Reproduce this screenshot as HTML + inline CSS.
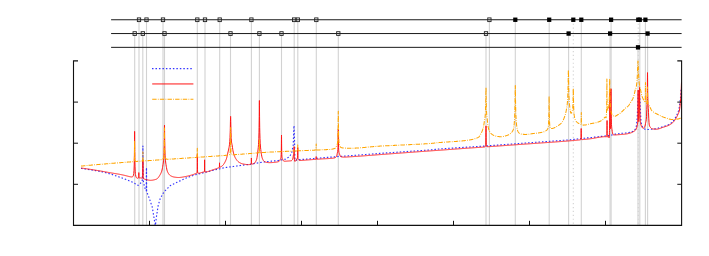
<!DOCTYPE html>
<html><head><meta charset="utf-8"><title>plot</title>
<style>html,body{margin:0;padding:0;background:#fff;font-family:"Liberation Sans",sans-serif;}
body{width:709px;height:256px;position:relative;overflow:hidden}</style></head>
<body>
<svg width="709" height="256" viewBox="0 0 709 256" style="position:absolute;left:0;top:0">
<rect width="709" height="256" fill="#fff"/>
<line x1="139" y1="19.75" x2="139" y2="225" stroke="#d2d2d2" stroke-width="1.1"/>
<line x1="146.5" y1="19.75" x2="146.5" y2="225" stroke="#d2d2d2" stroke-width="1.1"/>
<line x1="163" y1="19.75" x2="163" y2="225" stroke="#d2d2d2" stroke-width="1.1"/>
<line x1="197.3" y1="19.75" x2="197.3" y2="225" stroke="#d2d2d2" stroke-width="1.1"/>
<line x1="205" y1="19.75" x2="205" y2="225" stroke="#d2d2d2" stroke-width="1.1"/>
<line x1="219.7" y1="19.75" x2="219.7" y2="225" stroke="#d2d2d2" stroke-width="1.1"/>
<line x1="251.4" y1="19.75" x2="251.4" y2="225" stroke="#d2d2d2" stroke-width="1.1"/>
<line x1="294.2" y1="19.75" x2="294.2" y2="225" stroke="#d2d2d2" stroke-width="1.1"/>
<line x1="297.8" y1="19.75" x2="297.8" y2="225" stroke="#d2d2d2" stroke-width="1.1"/>
<line x1="316.3" y1="19.75" x2="316.3" y2="225" stroke="#d2d2d2" stroke-width="1.1"/>
<line x1="489.4" y1="19.75" x2="489.4" y2="225" stroke="#d2d2d2" stroke-width="1.1"/>
<line x1="515.3" y1="19.75" x2="515.3" y2="225" stroke="#d2d2d2" stroke-width="1.1"/>
<line x1="549.2" y1="19.75" x2="549.2" y2="225" stroke="#d2d2d2" stroke-width="1.1"/>
<line x1="573.3" y1="19.75" x2="573.3" y2="225" stroke="#d2d2d2" stroke-width="1.1" stroke-dasharray="1.2 2.7"/>
<line x1="581.3" y1="19.75" x2="581.3" y2="225" stroke="#d2d2d2" stroke-width="1.1"/>
<line x1="611.1" y1="19.75" x2="611.1" y2="225" stroke="#d2d2d2" stroke-width="1.1"/>
<line x1="638.25" y1="19.75" x2="638.25" y2="225" stroke="#d2d2d2" stroke-width="1.1" stroke-dasharray="1.2 2.7"/>
<line x1="639.8" y1="19.75" x2="639.8" y2="225" stroke="#d2d2d2" stroke-width="1.1"/>
<line x1="645.4" y1="19.75" x2="645.4" y2="225" stroke="#d2d2d2" stroke-width="1.1"/>
<line x1="134.7" y1="33.55" x2="134.7" y2="225" stroke="#d2d2d2" stroke-width="1.1"/>
<line x1="142.8" y1="33.55" x2="142.8" y2="225" stroke="#d2d2d2" stroke-width="1.1"/>
<line x1="164.5" y1="33.55" x2="164.5" y2="225" stroke="#d2d2d2" stroke-width="1.1"/>
<line x1="230.5" y1="33.55" x2="230.5" y2="225" stroke="#d2d2d2" stroke-width="1.1"/>
<line x1="259.4" y1="33.55" x2="259.4" y2="225" stroke="#d2d2d2" stroke-width="1.1"/>
<line x1="281.5" y1="33.55" x2="281.5" y2="225" stroke="#d2d2d2" stroke-width="1.1"/>
<line x1="338.3" y1="33.55" x2="338.3" y2="225" stroke="#d2d2d2" stroke-width="1.1"/>
<line x1="486" y1="33.55" x2="486" y2="225" stroke="#d2d2d2" stroke-width="1.1"/>
<line x1="568.6" y1="33.55" x2="568.6" y2="225" stroke="#d2d2d2" stroke-width="1.1"/>
<line x1="610.1" y1="33.55" x2="610.1" y2="225" stroke="#d2d2d2" stroke-width="1.1"/>
<line x1="647.6" y1="33.55" x2="647.6" y2="225" stroke="#d2d2d2" stroke-width="1.1"/>
<line x1="638.0" y1="47.35" x2="638.0" y2="225" stroke="#d2d2d2" stroke-width="1.1"/>
<path d="M81.00 168.40L81.15 168.40L81.50 168.45L82.00 168.53L82.50 168.60L83.00 168.67L83.50 168.75L84.00 168.82L84.50 168.89L85.00 168.97L85.50 169.04L86.00 169.12L86.50 169.19L87.00 169.26L87.50 169.34L88.00 169.41L88.50 169.48L89.00 169.56L89.50 169.63L90.00 169.71L90.50 169.78L91.00 169.85L91.50 169.93L92.00 170.00L92.50 170.09L93.00 170.18L93.50 170.27L94.00 170.36L94.50 170.45L95.00 170.55L95.50 170.64L96.00 170.73L96.50 170.82L97.00 170.91L97.50 171.00L98.00 171.09L98.50 171.18L99.00 171.27L99.50 171.36L100.00 171.45L100.50 171.55L101.00 171.64L101.50 171.73L102.00 171.82L102.50 171.91L103.00 172.00L103.50 172.09L104.00 172.18L104.10 172.20L104.50 172.32L105.00 172.46L105.50 172.61L106.00 172.76L106.50 172.90L107.00 173.05L107.50 173.19L108.00 173.34L108.50 173.49L109.00 173.63L109.50 173.78L110.00 173.92L110.50 174.07L111.00 174.22L111.50 174.36L112.00 174.51L112.50 174.65L113.00 174.80L113.50 174.98L114.00 175.15L114.50 175.33L115.00 175.51L115.50 175.68L116.00 175.86L116.50 176.04L117.00 176.21L117.50 176.39L118.00 176.57L118.50 176.74L119.00 176.92L119.50 177.10L120.00 177.27L120.50 177.45L121.00 177.63L121.50 177.81L122.00 177.98L122.50 178.16L122.90 178.30L123.00 178.34L123.50 178.54L124.00 178.74L124.50 178.94L125.00 179.14L125.50 179.33L126.00 179.53L126.50 179.73L127.00 179.93L127.50 180.13L128.00 180.33L128.50 180.53L129.00 180.73L129.50 180.93L130.00 181.12L130.50 181.32L131.00 181.52L131.50 181.72L132.00 181.92L132.20 182.00L132.50 182.17L133.00 182.46L133.50 182.74L134.00 183.03L134.50 183.31L135.00 183.60L135.50 183.89L136.00 184.17L136.50 184.46L137.00 184.74L137.50 185.03L138.00 185.31L138.15 185.40L138.50 185.09L139.00 184.64L139.50 184.19L140.00 183.75L140.50 183.30L141.00 182.62L141.50 181.95L142.00 181.27L142.20 181.00L142.50 175.00L142.75 170.00L142.90 146.00L143.00 162.00L143.05 170.00L143.30 180.50L143.50 181.75L143.70 183.00L144.00 184.46L144.50 186.90L145.00 188.17L145.50 189.44L145.80 190.20L146.00 190.44L146.30 190.80L146.45 167.80L146.50 175.70L146.60 191.50L147.00 192.50L147.50 193.75L147.60 194.00L148.00 195.02L148.50 196.30L149.00 197.58L149.40 198.60L149.50 198.90L150.00 200.40L150.50 201.90L151.00 203.40L151.50 204.90L152.00 206.40L152.30 207.30L152.50 208.53L153.00 211.59L153.50 214.66L153.80 216.50L154.00 217.75L154.50 220.87L155.00 224.00L155.40 225.30L155.50 224.48L155.80 222.00L156.00 220.33L156.40 217.00L156.50 216.36L157.00 213.13L157.50 209.91L158.00 206.69L158.20 205.40L158.50 204.38L159.00 202.68L159.50 200.98L160.00 199.28L160.20 198.60L160.50 198.07L161.00 197.18L161.50 196.30L162.00 195.42L162.50 194.53L163.00 193.65L163.50 192.76L164.00 191.88L164.10 191.70L164.50 191.30L165.00 190.80L165.50 190.30L166.00 189.80L166.50 189.30L167.00 188.80L167.50 188.30L168.00 187.80L168.50 187.30L169.00 186.80L169.50 186.30L169.90 185.90L170.00 185.85L170.50 185.60L171.00 185.35L171.50 185.10L172.00 184.85L172.50 184.60L173.00 184.35L173.50 184.10L174.00 183.85L174.50 183.60L175.00 183.35L175.50 183.10L176.00 182.85L176.50 182.60L177.00 182.35L177.50 182.10L177.70 182.00L178.00 181.86L178.50 181.62L179.00 181.37L179.50 181.13L180.00 180.89L180.50 180.65L181.00 180.41L181.50 180.17L182.00 179.93L182.50 179.69L183.00 179.45L183.50 179.21L184.00 178.97L184.50 178.73L185.00 178.49L185.50 178.25L185.60 178.20L186.00 178.06L186.50 177.88L187.00 177.71L187.50 177.53L188.00 177.35L188.50 177.17L189.00 177.00L189.50 176.82L190.00 176.64L190.50 176.47L191.00 176.29L191.50 176.11L192.00 175.94L192.50 175.76L193.00 175.58L193.50 175.41L194.00 175.23L194.50 175.05L195.00 174.88L195.50 174.70L196.00 174.58L196.50 174.45L197.00 174.33L197.50 174.21L198.00 174.08L198.50 173.96L199.00 173.84L199.50 173.71L200.00 173.59L200.50 173.46L201.00 173.34L201.50 173.22L202.00 173.09L202.50 172.97L203.00 172.85L203.50 172.72L204.00 172.60L204.50 172.47L205.00 172.35L205.50 172.22L206.00 172.10L206.50 171.97L207.00 171.85L207.50 171.72L208.00 171.60L208.50 171.47L209.00 171.35L209.50 171.22L210.00 171.10L210.50 170.97L211.00 170.85L211.50 170.72L212.00 170.60L212.40 170.50L212.50 170.48L213.00 170.36L213.50 170.24L214.00 170.12L214.50 170.01L215.00 169.89L215.50 169.77L216.00 169.65L216.50 169.54L217.00 169.42L217.50 169.30L218.00 169.18L218.50 169.06L219.00 168.95L219.50 168.83L220.00 168.71L220.50 168.59L220.90 168.50L221.00 168.48L221.50 168.37L222.00 168.26L222.50 168.15L223.00 168.04L223.50 167.93L224.00 167.82L224.50 167.71L225.00 167.60L225.50 167.53L226.00 167.46L226.50 167.40L227.00 167.33L227.50 167.26L228.00 167.19L228.50 167.13L229.00 167.06L229.50 166.99L230.00 166.92L230.50 166.86L231.00 166.79L231.50 166.72L232.00 166.65L232.50 166.59L233.00 166.52L233.50 166.45L234.00 166.38L234.50 166.32L235.00 166.25L235.50 166.18L236.00 166.11L236.10 166.10L236.50 166.05L237.00 165.98L237.50 165.91L238.00 165.84L238.50 165.78L239.00 165.71L239.50 165.64L240.00 165.57L240.50 165.51L241.00 165.44L241.50 165.37L242.00 165.30L242.50 165.24L243.00 165.17L243.50 165.10L244.00 165.04L244.50 164.97L245.00 164.90L245.50 164.83L246.00 164.77L246.50 164.70L247.00 164.63L247.50 164.56L248.00 164.50L248.50 164.43L249.00 164.36L249.50 164.29L250.00 164.23L250.20 164.20L250.50 164.15L251.00 164.07L251.50 163.99L252.00 163.91L252.50 163.82L253.00 163.74L253.50 163.66L254.00 163.58L254.50 163.50L255.00 163.42L255.50 163.34L256.00 163.25L256.50 163.17L257.00 163.09L257.50 163.01L258.00 162.93L258.50 162.85L259.00 162.76L259.50 162.68L260.00 162.60L260.50 162.52L261.00 162.44L261.50 162.36L262.00 162.28L262.50 162.19L263.00 162.11L263.50 162.03L264.00 161.95L264.30 161.90L264.50 161.88L265.00 161.83L265.50 161.78L266.00 161.73L266.50 161.68L267.00 161.63L267.50 161.58L268.00 161.53L268.50 161.48L269.00 161.43L269.50 161.38L270.00 161.33L270.50 161.28L271.00 161.23L271.50 161.19L272.00 161.14L272.50 161.09L273.00 161.04L273.50 160.99L274.00 160.94L274.50 160.89L275.00 160.84L275.50 160.79L276.00 160.74L276.50 160.69L277.00 160.64L277.50 160.59L278.00 160.54L278.40 160.50L278.50 160.48L279.00 160.38L279.50 160.28L280.00 160.18L280.50 160.09L281.00 159.99L281.50 159.89L282.00 159.79L282.50 159.69L283.00 159.59L283.50 159.49L284.00 159.40L284.50 159.30L285.00 159.20L285.50 159.10L286.00 158.80L286.50 158.50L287.00 158.21L287.50 157.91L288.00 157.61L288.50 157.31L289.00 157.02L289.50 156.72L289.70 156.60L290.00 155.99L290.50 154.96L291.00 153.94L291.50 152.91L291.80 152.30L292.00 151.30L292.50 148.80L293.00 146.30L293.20 145.30L293.50 137.91L294.00 125.60L294.50 140.00L294.80 155.00L295.00 160.30L295.50 160.23L296.00 160.16L296.50 160.09L297.00 160.02L297.50 159.95L298.00 159.88L298.50 159.81L299.00 159.74L299.50 159.67L300.00 159.60L300.50 159.56L301.00 159.52L301.50 159.48L302.00 159.44L302.50 159.40L303.00 159.36L303.50 159.32L304.00 159.28L304.50 159.24L305.00 159.20L305.50 159.16L306.00 159.12L306.50 159.08L307.00 159.04L307.50 159.00L308.00 158.96L308.50 158.92L309.00 158.88L309.50 158.84L310.00 158.80L310.50 158.76L311.00 158.72L311.50 158.68L312.00 158.64L312.50 158.60L313.00 158.56L313.50 158.52L314.00 158.48L314.50 158.44L315.00 158.40L315.50 158.36L316.00 158.32L316.50 158.28L317.00 158.24L317.50 158.20L318.00 158.16L318.50 158.12L319.00 158.08L319.50 158.04L320.00 158.00L320.50 157.96L321.00 157.92L321.50 157.88L322.00 157.84L322.50 157.80L323.00 157.76L323.50 157.72L324.00 157.68L324.50 157.64L325.00 157.60L325.50 157.56L326.00 157.52L326.50 157.48L327.00 157.44L327.50 157.40L328.00 157.36L328.50 157.32L329.00 157.28L329.50 157.24L330.00 157.20L330.50 157.16L331.00 157.12L331.50 157.07L332.00 157.03L332.50 156.99L333.00 156.95L333.50 156.90L334.00 156.86L334.50 156.82L335.00 156.78L335.50 156.74L336.00 156.69L336.50 156.65L337.00 156.61L337.50 156.57L338.00 156.53L338.30 156.50L338.50 156.49L339.00 156.45L339.50 156.42L340.00 156.38L340.50 156.35L341.00 156.32L341.50 156.28L342.00 156.25L342.50 156.21L343.00 156.18L343.50 156.14L344.00 156.11L344.50 156.08L345.00 156.04L345.50 156.01L346.00 155.97L346.50 155.94L347.00 155.91L347.50 155.87L348.00 155.84L348.50 155.80L349.00 155.77L349.50 155.73L350.00 155.70L350.50 155.66L351.00 155.62L351.50 155.58L352.00 155.55L352.50 155.51L353.00 155.47L353.50 155.43L354.00 155.39L354.50 155.35L355.00 155.32L355.50 155.28L356.00 155.24L356.50 155.20L357.00 155.16L357.50 155.12L358.00 155.09L358.50 155.05L359.00 155.01L359.50 154.97L360.00 154.93L360.50 154.89L361.00 154.86L361.50 154.82L362.00 154.78L362.50 154.74L363.00 154.70L363.50 154.66L364.00 154.63L364.50 154.59L365.00 154.55L365.50 154.51L366.00 154.47L366.50 154.44L367.00 154.40L367.50 154.36L368.00 154.32L368.50 154.28L369.00 154.24L369.50 154.21L370.00 154.17L370.50 154.13L371.00 154.09L371.50 154.05L372.00 154.01L372.50 153.97L373.00 153.94L373.50 153.90L374.00 153.86L374.50 153.82L375.00 153.78L375.50 153.75L376.00 153.71L376.50 153.67L377.00 153.63L377.50 153.59L378.00 153.55L378.50 153.52L379.00 153.48L379.50 153.44L380.00 153.40L380.50 153.37L381.00 153.33L381.50 153.30L382.00 153.26L382.50 153.22L383.00 153.19L383.50 153.16L384.00 153.12L384.50 153.09L385.00 153.05L385.50 153.02L386.00 152.98L386.50 152.94L387.00 152.91L387.50 152.88L388.00 152.84L388.50 152.81L389.00 152.77L389.50 152.74L390.00 152.70L390.50 152.66L391.00 152.63L391.50 152.59L392.00 152.56L392.50 152.53L393.00 152.49L393.50 152.46L394.00 152.42L394.50 152.39L395.00 152.35L395.50 152.31L396.00 152.28L396.50 152.25L397.00 152.21L397.50 152.18L398.00 152.14L398.50 152.11L399.00 152.07L399.50 152.03L400.00 152.00L400.50 151.97L401.00 151.93L401.50 151.90L402.00 151.86L402.50 151.83L403.00 151.79L403.50 151.75L404.00 151.72L404.50 151.69L405.00 151.65L405.50 151.62L406.00 151.58L406.50 151.55L407.00 151.51L407.50 151.47L408.00 151.44L408.50 151.41L409.00 151.37L409.50 151.34L410.00 151.30L410.50 151.27L411.00 151.23L411.50 151.19L412.00 151.16L412.50 151.12L413.00 151.09L413.50 151.06L414.00 151.02L414.50 150.99L415.00 150.95L415.50 150.91L416.00 150.88L416.50 150.84L417.00 150.81L417.50 150.78L418.00 150.74L418.50 150.71L419.00 150.67L419.50 150.64L420.00 150.60L420.50 150.56L421.00 150.53L421.50 150.50L422.00 150.46L422.50 150.43L423.00 150.39L423.50 150.36L424.00 150.32L424.50 150.28L425.00 150.25L425.50 150.22L426.00 150.18L426.50 150.15L427.00 150.11L427.50 150.08L428.00 150.04L428.50 150.00L429.00 149.97L429.50 149.94L430.00 149.90L430.50 149.85L431.00 149.80L431.50 149.75L432.00 149.70L432.50 149.65L433.00 149.60L433.50 149.55L434.00 149.50L434.50 149.45L435.00 149.40L435.50 149.35L436.00 149.30L436.50 149.25L437.00 149.20L437.50 149.15L438.00 149.10L438.50 149.05L439.00 149.00L439.50 148.95L440.00 148.90L440.50 148.87L441.00 148.84L441.50 148.80L442.00 148.77L442.50 148.74L443.00 148.71L443.50 148.67L444.00 148.64L444.50 148.61L445.00 148.58L445.50 148.55L446.00 148.51L446.50 148.48L447.00 148.45L447.50 148.42L448.00 148.38L448.50 148.35L449.00 148.32L449.50 148.29L450.00 148.26L450.50 148.22L451.00 148.19L451.50 148.16L452.00 148.13L452.50 148.09L453.00 148.06L453.50 148.03L454.00 148.00L454.50 147.97L455.00 147.93L455.50 147.90L456.00 147.87L456.50 147.84L457.00 147.80L457.50 147.77L458.00 147.74L458.50 147.71L459.00 147.68L459.50 147.64L460.00 147.61L460.50 147.58L461.00 147.55L461.50 147.51L462.00 147.48L462.50 147.45L463.00 147.42L463.50 147.39L464.00 147.35L464.50 147.32L465.00 147.29L465.50 147.26L466.00 147.22L466.50 147.19L467.00 147.16L467.50 147.13L468.00 147.10L468.50 147.06L469.00 147.03L469.50 147.00L470.00 146.97L470.50 146.93L471.00 146.90L471.50 146.87L472.00 146.84L472.50 146.81L473.00 146.77L473.50 146.74L474.00 146.71L474.50 146.68L475.00 146.64L475.50 146.61L476.00 146.58L476.50 146.55L477.00 146.52L477.50 146.48L478.00 146.45L478.50 146.42L479.00 146.39L479.50 146.35L480.00 146.32L480.50 146.29L481.00 146.26L481.50 146.23L482.00 146.19L482.50 146.16L483.00 146.13L483.50 146.10L484.00 146.06L484.50 146.03L485.00 146.00L485.50 145.96L486.00 145.93L486.50 145.89L487.00 145.85L487.50 145.81L488.00 145.78L488.50 145.74L489.00 145.70L489.50 145.67L490.00 145.63L490.50 145.59L491.00 145.55L491.50 145.52L492.00 145.48L492.50 145.44L493.00 145.41L493.50 145.37L494.00 145.33L494.50 145.29L495.00 145.26L495.50 145.22L496.00 145.18L496.50 145.15L497.00 145.11L497.50 145.07L498.00 145.03L498.50 145.00L499.00 144.96L499.50 144.92L500.00 144.89L500.50 144.85L501.00 144.81L501.50 144.77L502.00 144.74L502.50 144.70L503.00 144.66L503.50 144.63L504.00 144.59L504.50 144.55L505.00 144.51L505.50 144.48L506.00 144.44L506.50 144.40L507.00 144.37L507.50 144.33L508.00 144.29L508.50 144.25L509.00 144.22L509.50 144.18L510.00 144.14L510.50 144.11L511.00 144.07L511.50 144.03L512.00 143.99L512.50 143.96L513.00 143.92L513.50 143.88L514.00 143.85L514.50 143.81L515.00 143.77L515.50 143.73L516.00 143.70L516.50 143.66L517.00 143.62L517.50 143.59L518.00 143.55L518.50 143.51L519.00 143.47L519.50 143.44L520.00 143.40L520.50 143.36L521.00 143.33L521.50 143.29L522.00 143.26L522.50 143.22L523.00 143.18L523.50 143.15L524.00 143.11L524.50 143.08L525.00 143.04L525.50 143.00L526.00 142.97L526.50 142.93L527.00 142.90L527.50 142.86L528.00 142.82L528.50 142.79L529.00 142.75L529.50 142.72L530.00 142.68L530.50 142.64L531.00 142.61L531.50 142.57L532.00 142.54L532.50 142.50L533.00 142.46L533.50 142.43L534.00 142.39L534.50 142.36L535.00 142.32L535.50 142.28L536.00 142.25L536.50 142.21L537.00 142.18L537.50 142.14L538.00 142.10L538.50 142.07L539.00 142.03L539.50 142.00L540.00 141.96L540.50 141.92L541.00 141.89L541.50 141.85L542.00 141.82L542.50 141.78L543.00 141.74L543.50 141.71L544.00 141.67L544.50 141.64L545.00 141.60L545.50 141.56L546.00 141.53L546.50 141.49L547.00 141.46L547.50 141.42L548.00 141.38L548.50 141.35L549.00 141.31L549.50 141.28L550.00 141.24L550.50 141.20L551.00 141.17L551.50 141.13L552.00 141.10L552.50 141.06L553.00 141.02L553.50 140.99L554.00 140.95L554.50 140.92L555.00 140.88L555.50 140.84L556.00 140.81L556.50 140.77L557.00 140.74L557.50 140.70L558.00 140.66L558.50 140.63L559.00 140.59L559.50 140.56L560.00 140.52L560.50 140.48L561.00 140.45L561.50 140.41L562.00 140.38L562.50 140.34L563.00 140.30L563.50 140.27L564.00 140.23L564.50 140.20L565.00 140.16L565.50 140.12L566.00 140.09L566.50 140.05L567.00 140.02L567.50 139.98L568.00 139.94L568.50 139.91L569.00 139.87L569.50 139.84L570.00 139.80L570.50 139.75L571.00 139.69L571.50 139.64L572.00 139.58L572.50 139.53L573.00 139.47L573.50 139.42L574.00 139.36L574.50 139.31L575.00 139.26L575.50 139.20L576.00 139.15L576.50 139.09L577.00 139.04L577.50 138.98L578.00 138.93L578.50 138.88L579.00 138.82L579.50 138.77L580.00 138.71L580.50 138.66L581.00 138.60L581.50 138.55L582.00 138.49L582.50 138.44L583.00 138.39L583.50 138.33L584.00 138.28L584.50 138.22L585.00 138.17L585.50 138.11L586.00 138.06L586.50 138.00L587.00 137.95L587.50 137.90L588.00 137.84L588.50 137.79L589.00 137.73L589.50 137.68L590.00 137.62L590.50 137.57L591.00 137.51L591.50 137.46L592.00 137.41L592.50 137.35L593.00 137.30L593.50 137.24L594.00 137.19L594.50 137.13L595.00 137.08L595.50 137.03L596.00 136.97L596.50 136.92L597.00 136.86L597.50 136.81L598.00 136.75L598.50 136.70L599.00 136.64L599.50 136.59L600.00 136.54L600.50 136.48L601.00 136.43L601.50 136.37L602.00 136.32L602.50 136.26L603.00 136.21L603.50 136.15L604.00 136.10L604.50 136.05L605.00 135.99L605.50 135.94L606.00 135.88L606.50 135.83L607.00 135.78L607.50 135.72L608.00 135.67L608.50 135.62L609.00 135.56L609.50 135.51L610.00 135.45L610.50 135.40L611.00 135.24L611.50 135.09L612.00 134.93L612.50 134.77L613.00 134.61L613.50 134.46L614.00 134.30L614.50 134.24L615.00 134.18L615.50 134.11L616.00 134.05L616.50 133.99L617.00 133.93L617.50 133.86L618.00 133.80L618.50 133.74L619.00 133.68L619.50 133.61L620.00 133.55L620.50 133.49L621.00 133.43L621.50 133.36L622.00 133.30L622.50 133.26L623.00 133.22L623.50 133.18L624.00 133.13L624.50 133.09L625.00 133.05L625.50 133.01L626.00 132.97L626.50 132.93L627.00 132.88L627.50 132.84L628.00 132.80L628.50 132.65L629.00 132.51L629.50 132.36L630.00 132.22L630.50 132.07L631.00 131.93L631.50 131.78L632.00 131.63L632.50 131.49L632.80 131.40L633.00 131.22L633.50 130.78L634.00 130.34L634.50 129.90L635.00 129.45L635.40 129.10L635.50 128.79L636.00 127.24L636.40 126.00L636.50 125.00L637.00 120.00L637.20 118.00L637.50 111.10L638.00 99.60L638.20 95.00L638.50 93.13L639.00 90.00L639.50 95.00L640.00 100.00L640.45 112.00L640.50 112.89L640.90 120.00L641.00 120.80L641.40 124.00L641.50 124.25L642.00 125.53L642.50 126.80L643.00 127.30L643.50 127.80L644.00 128.30L644.50 128.80L645.00 129.30L645.50 129.33L646.00 129.37L646.50 129.40L647.00 129.43L647.50 129.47L648.00 129.50L648.50 129.46L649.00 129.43L649.50 129.39L650.00 129.35L650.50 129.31L651.00 129.27L651.50 129.24L652.00 129.20L652.50 129.14L653.00 129.08L653.50 129.03L654.00 128.97L654.50 128.91L655.00 128.85L655.50 128.79L656.00 128.73L656.30 128.70L656.50 128.64L657.00 128.49L657.50 128.34L658.00 128.19L658.50 128.04L659.00 127.89L659.50 127.74L660.00 127.59L660.50 127.44L661.00 127.29L661.50 127.14L662.00 126.99L662.50 126.84L663.00 126.69L663.30 126.60L663.50 126.53L664.00 126.36L664.50 126.19L665.00 126.02L665.50 125.85L666.00 125.68L666.50 125.51L667.00 125.34L667.50 125.17L668.00 125.00L668.50 124.69L669.00 124.38L669.50 124.06L670.00 123.75L670.50 123.44L671.00 123.12L671.50 122.81L672.00 122.50L672.50 121.90L673.00 121.29L673.50 120.69L674.00 120.08L674.40 119.60L674.50 119.41L675.00 118.49L675.50 117.56L676.00 116.64L676.50 115.71L677.00 114.79L677.10 114.60L677.50 113.53L678.00 112.18L678.50 110.84L679.00 109.50L679.50 105.75L680.00 102.00L680.50 97.83L680.60 97.00L681.00 91.00L681.20 88.00" fill="none" stroke="#3434ff" stroke-width="1.15" stroke-dasharray="1.5 1.98" stroke-linejoin="round"/>
<line x1="146.5" y1="168" x2="146.5" y2="191" stroke="#3434ff" stroke-width="1.1" stroke-dasharray="2.4 1.1" opacity="0.75"/>
<path d="M81.00 168.00L81.25 168.03L81.50 168.07L81.75 168.10L82.00 168.14L82.25 168.17L82.50 168.21L82.75 168.24L83.00 168.28L83.25 168.31L83.50 168.35L83.75 168.39L84.00 168.42L84.25 168.46L84.50 168.49L84.75 168.53L85.00 168.57L85.25 168.60L85.50 168.64L85.75 168.67L86.00 168.71L86.25 168.75L86.50 168.78L86.75 168.82L87.00 168.86L87.25 168.90L87.50 168.93L87.75 168.97L88.00 169.01L88.25 169.05L88.50 169.08L88.75 169.12L89.00 169.16L89.25 169.20L89.50 169.23L89.75 169.27L90.00 169.31L90.25 169.35L90.50 169.39L90.75 169.43L91.00 169.46L91.25 169.50L91.50 169.54L91.75 169.58L92.00 169.62L92.25 169.66L92.50 169.70L92.75 169.74L93.00 169.78L93.25 169.82L93.50 169.86L93.75 169.90L94.00 169.94L94.25 169.98L94.50 170.02L94.75 170.06L95.00 170.10L95.25 170.14L95.50 170.18L95.75 170.22L96.00 170.26L96.25 170.30L96.50 170.34L96.75 170.38L97.00 170.42L97.25 170.46L97.50 170.50L97.75 170.54L98.00 170.58L98.25 170.62L98.50 170.67L98.75 170.71L99.00 170.75L99.25 170.79L99.50 170.83L99.75 170.88L100.00 170.92L100.25 170.96L100.50 171.01L100.75 171.05L101.00 171.09L101.25 171.14L101.50 171.18L101.75 171.22L102.00 171.27L102.25 171.31L102.50 171.36L102.75 171.40L103.00 171.45L103.25 171.49L103.50 171.53L103.75 171.58L104.00 171.62L104.25 171.67L104.50 171.71L104.75 171.76L105.00 171.80L105.25 171.85L105.50 171.89L105.75 171.94L106.00 171.98L106.25 172.03L106.50 172.07L106.75 172.12L107.00 172.16L107.25 172.21L107.50 172.25L107.75 172.30L108.00 172.34L108.25 172.39L108.50 172.43L108.75 172.48L109.00 172.52L109.25 172.57L109.50 172.61L109.75 172.66L110.00 172.70L110.25 172.74L110.50 172.79L110.75 172.83L111.00 172.87L111.25 172.92L111.50 172.96L111.75 173.00L112.00 173.04L112.25 173.08L112.50 173.13L112.75 173.17L113.00 173.21L113.25 173.25L113.50 173.29L113.75 173.33L114.00 173.37L114.25 173.41L114.50 173.45L114.75 173.50L115.00 173.54L115.25 173.58L115.50 173.62L115.75 173.66L116.00 173.70L116.25 173.74L116.50 173.78L116.75 173.83L117.00 173.87L117.25 173.91L117.50 173.95L117.75 174.00L118.00 174.04L118.25 174.08L118.50 174.13L118.75 174.17L119.00 174.22L119.25 174.26L119.50 174.31L119.75 174.35L120.00 174.40L120.25 174.45L120.50 174.50L120.75 174.54L121.00 174.59L121.25 174.64L121.50 174.69L121.75 174.74L122.00 174.80L122.25 174.85L122.50 174.90L122.75 174.95L123.00 175.01L123.25 175.06L123.50 175.12L123.75 175.18L124.00 175.24L124.25 175.29L124.50 175.35L124.75 175.41L125.00 175.47L125.25 175.54L125.50 175.60L125.75 175.66L126.00 175.72L126.25 175.79L126.50 175.85L126.75 175.91L127.00 175.98L127.25 176.04L127.50 176.11L127.75 176.17L128.00 176.23L128.25 176.30L128.50 176.36L128.75 176.42L129.00 176.48L129.25 176.54L129.50 176.60L129.75 176.66L130.00 176.71L130.25 176.76L130.50 176.81L130.75 176.85L131.00 176.88L131.25 176.91L131.50 176.92L131.75 176.92L132.00 176.89L132.25 176.83L132.50 176.73L132.75 176.55L133.00 176.26L133.25 175.79L133.50 174.98L133.75 173.50L133.80 173.07L134.00 170.58L134.20 165.89L134.25 164.10L134.30 161.93L134.40 155.84L134.45 151.44L134.50 145.50L134.54 139.25L134.57 134.11L134.60 131.40L134.63 134.13L134.66 139.30L134.70 145.59L134.75 151.56L134.80 156.01L134.90 162.17L135.00 166.22L135.20 171.06L135.25 171.86L135.40 173.70L135.50 174.57L135.75 176.03L136.00 176.89L136.25 177.42L136.50 177.76L136.75 177.97L137.00 178.10L137.25 178.18L137.50 178.22L137.75 178.22L138.00 178.19L138.20 178.15L138.25 178.13L138.40 178.06L138.50 177.96L138.60 177.71L138.65 177.40L138.70 176.72L138.74 175.44L138.75 174.94L138.77 173.77L138.80 172.60L138.83 173.75L138.86 175.42L138.90 176.68L138.95 177.35L139.00 177.63L139.10 177.85L139.20 177.92L139.25 177.93L139.40 177.95L139.50 177.94L139.60 177.94L139.75 177.93L140.00 177.91L140.25 177.90L140.50 177.90L140.75 177.92L141.00 177.95L141.25 177.99L141.50 178.04L141.75 178.09L142.00 178.13L142.10 178.13L142.25 178.11L142.30 178.09L142.50 177.84L142.60 177.44L142.70 176.37L142.75 175.11L142.80 172.49L142.84 168.28L142.87 163.36L142.90 160.00L142.93 163.38L142.96 168.33L143.00 172.57L143.05 175.22L143.10 176.53L143.20 177.67L143.25 177.95L143.30 178.14L143.50 178.55L143.70 178.73L143.75 178.77L144.00 178.90L144.25 179.00L144.50 179.09L144.75 179.18L145.00 179.26L145.25 179.34L145.50 179.42L145.75 179.49L146.00 179.55L146.25 179.61L146.50 179.67L146.75 179.72L147.00 179.78L147.25 179.83L147.50 179.89L147.75 179.94L148.00 179.99L148.25 180.04L148.50 180.09L148.75 180.13L149.00 180.17L149.25 180.21L149.50 180.24L149.75 180.26L150.00 180.28L150.25 180.29L150.50 180.30L150.75 180.30L151.00 180.29L151.25 180.28L151.50 180.26L151.75 180.24L152.00 180.22L152.25 180.19L152.50 180.15L152.75 180.11L153.00 180.07L153.25 180.02L153.50 179.97L153.75 179.92L154.00 179.86L154.25 179.80L154.50 179.74L154.75 179.67L155.00 179.60L155.25 179.53L155.50 179.46L155.75 179.38L156.00 179.30L156.25 179.21L156.50 179.09L156.75 178.94L157.00 178.78L157.25 178.60L157.50 178.40L157.75 178.18L158.00 177.91L158.25 177.61L158.50 177.28L158.75 176.92L159.00 176.55L159.25 176.16L159.50 175.76L159.75 175.36L160.00 174.94L160.25 174.51L160.50 174.05L160.75 173.56L161.00 173.02L161.25 172.43L161.50 171.78L161.75 171.04L162.00 170.09L162.25 168.92L162.50 167.61L162.75 166.20L163.00 164.72L163.25 163.05L163.50 160.82L163.70 158.47L163.75 157.76L163.90 155.19L164.00 152.86L164.10 149.80L164.20 145.65L164.25 143.01L164.30 139.86L164.35 136.11L164.40 131.74L164.44 128.16L164.47 126.05L164.50 125.22L164.53 126.05L164.56 128.16L164.60 131.74L164.65 136.11L164.70 139.86L164.75 143.01L164.80 145.65L164.90 149.80L165.00 152.86L165.10 155.19L165.25 157.76L165.30 158.47L165.50 160.82L165.75 163.05L166.00 164.72L166.25 166.23L166.50 167.68L166.75 169.02L167.00 170.18L167.25 171.06L167.50 171.69L167.75 172.25L168.00 172.76L168.25 173.22L168.50 173.63L168.75 174.01L169.00 174.34L169.25 174.64L169.50 174.91L169.75 175.14L170.00 175.33L170.25 175.50L170.50 175.65L170.75 175.80L171.00 175.94L171.25 176.07L171.50 176.20L171.75 176.31L172.00 176.42L172.25 176.52L172.50 176.61L172.75 176.70L173.00 176.78L173.25 176.85L173.50 176.92L173.75 176.98L174.00 177.03L174.25 177.08L174.50 177.12L174.75 177.15L175.00 177.19L175.25 177.22L175.50 177.26L175.75 177.29L176.00 177.32L176.25 177.35L176.50 177.38L176.75 177.40L177.00 177.42L177.25 177.44L177.50 177.46L177.75 177.48L178.00 177.49L178.25 177.49L178.50 177.50L178.75 177.50L179.00 177.50L179.25 177.49L179.50 177.48L179.75 177.46L180.00 177.44L180.25 177.42L180.50 177.39L180.75 177.36L181.00 177.33L181.25 177.30L181.50 177.26L181.75 177.22L182.00 177.18L182.25 177.14L182.50 177.10L182.75 177.05L183.00 177.00L183.25 176.96L183.50 176.91L183.75 176.86L184.00 176.81L184.25 176.76L184.50 176.71L184.75 176.66L185.00 176.61L185.25 176.57L185.50 176.52L185.75 176.47L186.00 176.42L186.25 176.38L186.50 176.32L186.75 176.27L187.00 176.22L187.25 176.16L187.50 176.11L187.75 176.05L188.00 175.99L188.25 175.93L188.50 175.87L188.75 175.81L189.00 175.74L189.25 175.68L189.50 175.61L189.75 175.55L190.00 175.48L190.25 175.41L190.50 175.34L190.75 175.27L191.00 175.20L191.25 175.13L191.50 175.06L191.75 174.98L192.00 174.91L192.25 174.83L192.50 174.76L192.75 174.68L193.00 174.60L193.25 174.51L193.50 174.41L193.75 174.31L194.00 174.20L194.25 174.10L194.50 173.99L194.75 173.88L195.00 173.79L195.25 173.69L195.50 173.61L195.75 173.53L196.00 173.46L196.25 173.39L196.50 173.29L196.55 173.27L196.75 173.12L196.95 172.74L197.00 172.55L197.05 172.26L197.15 171.05L197.20 169.66L197.25 166.87L197.29 162.47L197.32 157.42L197.35 154.00L197.38 157.42L197.41 162.46L197.45 166.86L197.50 169.64L197.55 171.02L197.65 172.22L197.75 172.69L197.95 173.03L198.00 173.07L198.15 173.15L198.25 173.18L198.50 173.21L198.75 173.21L199.00 173.20L199.25 173.17L199.50 173.13L199.75 173.08L200.00 173.02L200.25 172.95L200.50 172.88L200.75 172.80L201.00 172.72L201.25 172.64L201.50 172.56L201.75 172.48L202.00 172.40L202.25 172.33L202.50 172.26L202.75 172.20L203.00 172.15L203.25 172.11L203.50 172.07L203.75 172.03L203.80 172.02L204.00 171.97L204.20 171.88L204.25 171.83L204.30 171.76L204.40 171.45L204.45 171.05L204.50 170.07L204.54 167.89L204.57 163.96L204.60 159.80L204.63 163.95L204.66 167.88L204.70 170.05L204.75 171.03L204.80 171.42L204.90 171.72L205.00 171.82L205.20 171.89L205.25 171.89L205.40 171.90L205.50 171.90L205.75 171.89L206.00 171.88L206.25 171.86L206.50 171.84L206.75 171.81L207.00 171.77L207.25 171.73L207.50 171.68L207.75 171.62L208.00 171.56L208.25 171.49L208.50 171.42L208.75 171.34L209.00 171.25L209.25 171.17L209.50 171.08L209.75 170.99L210.00 170.89L210.25 170.80L210.50 170.70L210.75 170.61L211.00 170.51L211.25 170.42L211.50 170.32L211.75 170.23L212.00 170.14L212.25 170.05L212.50 169.97L212.75 169.88L213.00 169.80L213.25 169.72L213.50 169.64L213.75 169.56L214.00 169.48L214.25 169.39L214.50 169.31L214.75 169.23L215.00 169.15L215.25 169.06L215.50 168.98L215.75 168.89L216.00 168.81L216.25 168.72L216.50 168.63L216.75 168.54L217.00 168.44L217.25 168.35L217.50 168.25L217.75 168.15L218.00 168.04L218.25 167.94L218.50 167.83L218.70 167.74L218.75 167.72L218.90 167.65L219.00 167.61L219.10 167.55L219.20 167.48L219.25 167.44L219.30 167.37L219.35 167.25L219.40 166.97L219.44 166.31L219.47 164.83L219.50 162.80L219.53 164.80L219.56 166.26L219.60 166.89L219.65 167.12L219.70 167.20L219.75 167.22L219.80 167.22L219.90 167.21L220.00 167.17L220.10 167.13L220.25 167.07L220.30 167.04L220.50 166.95L220.75 166.82L221.00 166.68L221.25 166.53L221.50 166.38L221.75 166.21L222.00 166.03L222.25 165.84L222.50 165.63L222.75 165.39L223.00 165.13L223.25 164.83L223.50 164.51L223.75 164.16L224.00 163.79L224.25 163.39L224.50 162.97L224.75 162.51L225.00 162.04L225.25 161.54L225.50 161.01L225.75 160.46L226.00 159.88L226.25 159.27L226.50 158.52L226.75 157.59L227.00 156.55L227.25 155.43L227.50 154.29L227.75 153.16L228.00 152.08L228.25 151.09L228.50 150.12L228.75 149.00L229.00 147.70L229.25 146.18L229.50 144.26L229.75 141.65L229.80 141.00L230.00 137.62L230.20 132.37L230.25 130.63L230.30 128.67L230.40 124.07L230.45 121.52L230.50 119.03L230.54 117.40L230.57 116.60L230.60 116.32L230.63 116.60L230.66 117.40L230.70 119.03L230.75 121.52L230.80 124.07L230.90 128.67L231.00 132.37L231.20 137.62L231.25 138.61L231.40 141.00L231.50 142.08L231.75 143.29L232.00 144.46L232.25 145.98L232.50 147.63L232.75 149.30L233.00 150.85L233.25 152.10L233.50 153.03L233.75 153.88L234.00 154.66L234.25 155.39L234.50 156.06L234.75 156.67L235.00 157.23L235.25 157.73L235.50 158.17L235.75 158.59L236.00 158.98L236.25 159.36L236.50 159.72L236.75 160.06L237.00 160.39L237.25 160.69L237.50 160.97L237.75 161.24L238.00 161.49L238.25 161.71L238.50 161.92L238.75 162.10L239.00 162.26L239.25 162.42L239.50 162.56L239.75 162.71L240.00 162.84L240.25 162.97L240.50 163.09L240.75 163.21L241.00 163.32L241.25 163.42L241.50 163.52L241.75 163.61L242.00 163.69L242.25 163.77L242.50 163.84L242.75 163.90L243.00 163.96L243.25 164.01L243.50 164.06L243.75 164.10L244.00 164.15L244.25 164.19L244.50 164.24L244.75 164.28L245.00 164.32L245.25 164.36L245.50 164.39L245.75 164.43L246.00 164.46L246.25 164.49L246.50 164.51L246.75 164.54L247.00 164.56L247.25 164.57L247.50 164.59L247.75 164.60L248.00 164.61L248.25 164.61L248.50 164.61L248.75 164.60L249.00 164.59L249.25 164.58L249.50 164.56L249.75 164.54L250.00 164.51L250.25 164.47L250.50 164.43L250.60 164.41L250.75 164.37L250.80 164.35L251.00 164.24L251.10 164.12L251.20 163.82L251.25 163.46L251.30 162.65L251.34 161.18L251.37 159.29L251.40 158.00L251.43 159.28L251.46 161.16L251.50 162.62L251.55 163.40L251.60 163.74L251.70 164.00L251.75 164.05L251.80 164.08L252.00 164.11L252.20 164.08L252.25 164.07L252.50 164.01L252.75 163.94L253.00 163.87L253.25 163.78L253.50 163.68L253.75 163.58L254.00 163.44L254.25 163.27L254.50 163.07L254.75 162.82L255.00 162.53L255.25 162.19L255.50 161.81L255.75 161.38L256.00 160.89L256.25 160.33L256.50 159.68L256.75 158.86L257.00 157.60L257.25 155.97L257.50 154.10L257.75 152.07L258.00 149.92L258.25 147.61L258.50 144.53L258.60 142.90L258.75 139.87L258.80 138.65L259.00 132.19L259.10 127.49L259.20 120.95L259.25 116.55L259.30 111.03L259.34 105.82L259.37 102.17L259.40 100.52L259.43 102.17L259.46 105.82L259.50 111.03L259.55 116.55L259.60 120.95L259.70 127.49L259.75 130.01L259.80 132.19L260.00 138.65L260.20 142.90L260.25 143.75L260.50 147.08L260.75 149.44L261.00 151.44L261.25 153.21L261.50 154.80L261.75 156.18L262.00 157.32L262.25 158.14L262.50 158.79L262.75 159.37L263.00 159.87L263.25 160.32L263.50 160.70L263.75 161.02L264.00 161.28L264.25 161.47L264.50 161.61L264.75 161.73L265.00 161.84L265.25 161.94L265.50 162.04L265.75 162.12L266.00 162.19L266.25 162.26L266.50 162.32L266.75 162.38L267.00 162.42L267.25 162.47L267.50 162.50L267.75 162.53L268.00 162.56L268.25 162.58L268.50 162.60L268.75 162.61L269.00 162.62L269.25 162.63L269.50 162.63L269.75 162.64L270.00 162.64L270.25 162.63L270.50 162.63L270.75 162.62L271.00 162.61L271.25 162.60L271.50 162.59L271.75 162.57L272.00 162.56L272.25 162.54L272.50 162.52L272.75 162.50L273.00 162.48L273.25 162.45L273.50 162.43L273.75 162.41L274.00 162.38L274.25 162.35L274.50 162.33L274.75 162.30L275.00 162.27L275.25 162.24L275.50 162.21L275.75 162.18L276.00 162.15L276.25 162.12L276.50 162.08L276.75 162.05L277.00 162.00L277.25 161.96L277.50 161.90L277.75 161.84L278.00 161.78L278.25 161.70L278.50 161.61L278.75 161.51L279.00 161.40L279.25 161.22L279.50 160.95L279.75 160.61L280.00 160.20L280.25 159.54L280.50 158.80L280.70 158.41L280.75 158.30L280.90 157.76L281.00 157.16L281.10 156.17L281.20 154.39L281.25 152.96L281.30 150.93L281.35 148.00L281.40 143.79L281.44 139.49L281.47 136.40L281.50 135.00L281.53 136.40L281.56 139.49L281.60 143.79L281.65 148.00L281.70 150.93L281.75 152.96L281.80 154.39L281.90 156.17L282.00 157.16L282.10 157.76L282.25 158.30L282.30 158.41L282.50 158.80L282.75 159.55L283.00 160.20L283.25 160.57L283.50 160.88L283.75 161.10L284.00 161.20L284.25 161.22L284.50 161.23L284.75 161.23L285.00 161.23L285.25 161.22L285.50 161.21L285.75 161.20L286.00 161.18L286.25 161.17L286.50 161.15L286.75 161.13L287.00 161.11L287.25 161.09L287.50 161.07L287.75 161.04L288.00 161.02L288.25 161.00L288.50 160.99L288.75 160.97L289.00 160.95L289.25 160.94L289.50 160.92L289.75 160.90L290.00 160.88L290.25 160.86L290.50 160.83L290.75 160.80L291.00 160.76L291.25 160.71L291.50 160.63L291.75 160.46L292.00 160.22L292.25 159.89L292.50 159.48L292.75 159.00L293.00 157.99L293.25 156.17L293.30 155.81L293.50 154.72L293.70 154.52L293.75 154.59L293.80 154.67L293.90 154.63L293.95 154.25L294.00 153.08L294.04 150.84L294.07 148.17L294.10 146.60L294.13 148.67L294.16 151.83L294.20 154.72L294.25 156.68L294.30 157.81L294.40 159.20L294.50 160.13L294.70 161.23L294.75 161.35L294.90 161.42L295.00 161.41L295.25 161.30L295.50 161.12L295.75 160.87L296.00 160.60L296.25 160.08L296.50 159.34L296.75 158.74L296.95 158.59L297.00 158.59L297.15 158.58L297.25 158.56L297.35 158.50L297.45 158.31L297.50 158.10L297.55 157.72L297.60 156.97L297.65 155.33L297.69 152.61L297.72 149.57L297.75 147.70L297.78 149.63L297.81 152.73L297.85 155.52L297.90 157.26L297.95 158.11L298.00 158.58L298.05 158.88L298.15 159.24L298.25 159.46L298.35 159.62L298.50 159.81L298.55 159.86L298.75 160.03L299.00 160.25L299.25 160.42L299.50 160.50L299.75 160.50L300.00 160.50L300.25 160.50L300.50 160.49L300.75 160.48L301.00 160.47L301.25 160.46L301.50 160.45L301.75 160.43L302.00 160.41L302.25 160.39L302.50 160.37L302.75 160.35L303.00 160.33L303.25 160.30L303.50 160.28L303.75 160.26L304.00 160.23L304.25 160.21L304.50 160.18L304.75 160.16L305.00 160.14L305.25 160.11L305.50 160.09L305.75 160.07L306.00 160.05L306.25 160.03L306.50 160.01L306.75 159.99L307.00 159.97L307.25 159.95L307.50 159.94L307.75 159.92L308.00 159.90L308.25 159.88L308.50 159.86L308.75 159.85L309.00 159.83L309.25 159.81L309.50 159.79L309.75 159.77L310.00 159.76L310.25 159.74L310.50 159.72L310.75 159.70L311.00 159.68L311.25 159.67L311.50 159.65L311.75 159.63L312.00 159.61L312.25 159.59L312.50 159.58L312.75 159.56L313.00 159.54L313.25 159.52L313.50 159.51L313.75 159.49L314.00 159.47L314.25 159.45L314.50 159.43L314.75 159.41L315.00 159.39L315.25 159.37L315.40 159.36L315.50 159.35L315.60 159.33L315.75 159.31L315.80 159.29L315.90 159.25L316.00 159.14L316.05 159.01L316.10 158.71L316.14 158.10L316.17 157.24L316.20 156.60L316.23 157.24L316.25 157.85L316.26 158.10L316.30 158.69L316.35 158.99L316.40 159.12L316.50 159.21L316.60 159.24L316.75 159.25L316.80 159.25L317.00 159.24L317.25 159.23L317.50 159.22L317.75 159.20L318.00 159.18L318.25 159.17L318.50 159.15L318.75 159.13L319.00 159.11L319.25 159.10L319.50 159.08L319.75 159.06L320.00 159.04L320.25 159.03L320.50 159.01L320.75 158.99L321.00 158.97L321.25 158.95L321.50 158.94L321.75 158.92L322.00 158.90L322.25 158.88L322.50 158.87L322.75 158.85L323.00 158.83L323.25 158.82L323.50 158.81L323.75 158.79L324.00 158.78L324.25 158.77L324.50 158.75L324.75 158.74L325.00 158.73L325.25 158.72L325.50 158.71L325.75 158.69L326.00 158.68L326.25 158.67L326.50 158.66L326.75 158.65L327.00 158.64L327.25 158.63L327.50 158.61L327.75 158.60L328.00 158.59L328.25 158.57L328.50 158.56L328.75 158.55L329.00 158.53L329.25 158.51L329.50 158.50L329.75 158.48L330.00 158.46L330.25 158.44L330.50 158.42L330.75 158.40L331.00 158.38L331.25 158.36L331.50 158.33L331.75 158.31L332.00 158.28L332.25 158.25L332.50 158.22L332.75 158.19L333.00 158.15L333.25 158.12L333.50 158.08L333.75 158.04L334.00 158.00L334.25 157.95L334.50 157.89L334.75 157.80L335.00 157.70L335.25 157.58L335.50 157.43L335.75 157.25L336.00 157.04L336.25 156.78L336.50 156.48L336.75 156.09L337.00 154.92L337.25 153.35L337.50 152.20L337.70 151.38L337.75 151.05L337.90 149.44L338.00 147.38L338.10 143.60L338.15 140.57L338.20 136.50L338.24 132.63L338.25 131.70L338.27 130.08L338.30 129.00L338.33 130.11L338.36 132.69L338.40 136.59L338.45 140.72L338.50 143.79L338.60 147.67L338.70 149.83L338.75 150.55L338.90 151.94L339.00 152.51L339.10 152.92L339.25 153.38L339.50 154.00L339.75 154.72L340.00 155.46L340.25 156.11L340.50 156.53L340.75 156.66L341.00 156.74L341.25 156.81L341.50 156.87L341.75 156.92L342.00 156.96L342.25 157.00L342.50 157.03L342.75 157.05L343.00 157.07L343.25 157.09L343.50 157.10L343.75 157.10L344.00 157.10L344.25 157.10L344.50 157.10L344.75 157.09L345.00 157.09L345.25 157.08L345.50 157.07L345.75 157.06L346.00 157.05L346.25 157.04L346.50 157.02L346.75 157.01L347.00 156.99L347.25 156.98L347.50 156.96L347.75 156.95L348.00 156.93L348.25 156.91L348.50 156.90L348.75 156.88L349.00 156.86L349.25 156.85L349.50 156.83L349.75 156.81L350.00 156.80L350.25 156.79L350.50 156.77L350.75 156.76L351.00 156.74L351.25 156.73L351.50 156.71L351.75 156.70L352.00 156.68L352.25 156.67L352.50 156.65L352.75 156.63L353.00 156.62L353.25 156.60L353.50 156.59L353.75 156.57L354.00 156.55L354.25 156.54L354.50 156.52L354.75 156.51L355.00 156.49L355.25 156.47L355.50 156.46L355.75 156.44L356.00 156.42L356.25 156.40L356.50 156.39L356.75 156.37L357.00 156.35L357.25 156.33L357.50 156.32L357.75 156.30L358.00 156.28L358.25 156.26L358.50 156.25L358.75 156.23L359.00 156.21L359.25 156.19L359.50 156.17L359.75 156.16L360.00 156.14L360.25 156.12L360.50 156.10L360.75 156.08L361.00 156.06L361.25 156.05L361.50 156.03L361.75 156.01L362.00 155.99L362.25 155.97L362.50 155.95L362.75 155.93L363.00 155.91L363.25 155.90L363.50 155.88L363.75 155.86L364.00 155.84L364.25 155.82L364.50 155.80L364.75 155.78L365.00 155.76L365.25 155.74L365.50 155.72L365.75 155.70L366.00 155.68L366.25 155.67L366.50 155.65L366.75 155.63L367.00 155.61L367.25 155.59L367.50 155.57L367.75 155.55L368.00 155.53L368.25 155.51L368.50 155.49L368.75 155.47L369.00 155.45L369.25 155.43L369.50 155.41L369.75 155.39L370.00 155.37L370.25 155.35L370.50 155.33L370.75 155.31L371.00 155.29L371.25 155.27L371.50 155.25L371.75 155.23L372.00 155.22L372.25 155.20L372.50 155.18L372.75 155.16L373.00 155.14L373.25 155.12L373.50 155.10L373.75 155.08L374.00 155.06L374.25 155.04L374.50 155.02L374.75 155.00L375.00 154.98L375.25 154.96L375.50 154.94L375.75 154.92L376.00 154.90L376.25 154.88L376.50 154.86L376.75 154.85L377.00 154.83L377.25 154.81L377.50 154.79L377.75 154.77L378.00 154.75L378.25 154.73L378.50 154.71L378.75 154.69L379.00 154.67L379.25 154.66L379.50 154.64L379.75 154.62L380.00 154.60L380.25 154.58L380.50 154.56L380.75 154.54L381.00 154.53L381.25 154.51L381.50 154.49L381.75 154.47L382.00 154.45L382.25 154.43L382.50 154.41L382.75 154.39L383.00 154.38L383.25 154.36L383.50 154.34L383.75 154.32L384.00 154.30L384.25 154.28L384.50 154.26L384.75 154.25L385.00 154.23L385.25 154.21L385.50 154.19L385.75 154.17L386.00 154.15L386.25 154.13L386.50 154.11L386.75 154.09L387.00 154.08L387.25 154.06L387.50 154.04L387.75 154.02L388.00 154.00L388.25 153.98L388.50 153.96L388.75 153.94L389.00 153.93L389.25 153.91L389.50 153.89L389.75 153.87L390.00 153.85L390.25 153.83L390.50 153.81L390.75 153.79L391.00 153.77L391.25 153.76L391.50 153.74L391.75 153.72L392.00 153.70L392.25 153.68L392.50 153.66L392.75 153.64L393.00 153.62L393.25 153.60L393.50 153.59L393.75 153.57L394.00 153.55L394.25 153.53L394.50 153.51L394.75 153.49L395.00 153.47L395.25 153.45L395.50 153.44L395.75 153.42L396.00 153.40L396.25 153.38L396.50 153.36L396.75 153.34L397.00 153.32L397.25 153.30L397.50 153.29L397.75 153.27L398.00 153.25L398.25 153.23L398.50 153.21L398.75 153.19L399.00 153.17L399.25 153.16L399.50 153.14L399.75 153.12L400.00 153.10L400.25 153.08L400.50 153.06L400.75 153.04L401.00 153.03L401.25 153.01L401.50 152.99L401.75 152.97L402.00 152.95L402.25 152.93L402.50 152.91L402.75 152.90L403.00 152.88L403.25 152.86L403.50 152.84L403.75 152.82L404.00 152.80L404.25 152.78L404.50 152.77L404.75 152.75L405.00 152.73L405.25 152.71L405.50 152.69L405.75 152.67L406.00 152.65L406.25 152.64L406.50 152.62L406.75 152.60L407.00 152.58L407.25 152.56L407.50 152.54L407.75 152.52L408.00 152.51L408.25 152.49L408.50 152.47L408.75 152.45L409.00 152.43L409.25 152.41L409.50 152.40L409.75 152.38L410.00 152.36L410.25 152.34L410.50 152.32L410.75 152.30L411.00 152.28L411.25 152.27L411.50 152.25L411.75 152.23L412.00 152.21L412.25 152.19L412.50 152.17L412.75 152.16L413.00 152.14L413.25 152.12L413.50 152.10L413.75 152.08L414.00 152.06L414.25 152.04L414.50 152.03L414.75 152.01L415.00 151.99L415.25 151.97L415.50 151.95L415.75 151.93L416.00 151.92L416.25 151.90L416.50 151.88L416.75 151.86L417.00 151.84L417.25 151.82L417.50 151.81L417.75 151.79L418.00 151.77L418.25 151.75L418.50 151.73L418.75 151.71L419.00 151.70L419.25 151.68L419.50 151.66L419.75 151.64L420.00 151.62L420.25 151.60L420.50 151.59L420.75 151.57L421.00 151.55L421.25 151.53L421.50 151.51L421.75 151.49L422.00 151.48L422.25 151.46L422.50 151.44L422.75 151.42L423.00 151.40L423.25 151.39L423.50 151.37L423.75 151.35L424.00 151.33L424.25 151.31L424.50 151.30L424.75 151.28L425.00 151.26L425.25 151.24L425.50 151.22L425.75 151.21L426.00 151.19L426.25 151.17L426.50 151.15L426.75 151.13L427.00 151.11L427.25 151.10L427.50 151.08L427.75 151.06L428.00 151.04L428.25 151.03L428.50 151.01L428.75 150.99L429.00 150.97L429.25 150.95L429.50 150.94L429.75 150.92L430.00 150.90L430.25 150.88L430.50 150.86L430.75 150.85L431.00 150.83L431.25 150.81L431.50 150.79L431.75 150.78L432.00 150.76L432.25 150.74L432.50 150.72L432.75 150.71L433.00 150.69L433.25 150.67L433.50 150.65L433.75 150.64L434.00 150.62L434.25 150.60L434.50 150.58L434.75 150.57L435.00 150.55L435.25 150.53L435.50 150.52L435.75 150.50L436.00 150.48L436.25 150.46L436.50 150.45L436.75 150.43L437.00 150.41L437.25 150.39L437.50 150.38L437.75 150.36L438.00 150.34L438.25 150.32L438.50 150.31L438.75 150.29L439.00 150.27L439.25 150.25L439.50 150.24L439.75 150.22L440.00 150.20L440.25 150.18L440.50 150.16L440.75 150.15L441.00 150.13L441.25 150.11L441.50 150.09L441.75 150.07L442.00 150.06L442.25 150.04L442.50 150.02L442.75 150.00L443.00 149.98L443.25 149.97L443.50 149.95L443.75 149.93L444.00 149.91L444.25 149.89L444.50 149.87L444.75 149.86L445.00 149.84L445.25 149.82L445.50 149.80L445.75 149.78L446.00 149.76L446.25 149.75L446.50 149.73L446.75 149.71L447.00 149.69L447.25 149.67L447.50 149.65L447.75 149.64L448.00 149.62L448.25 149.60L448.50 149.58L448.75 149.56L449.00 149.54L449.25 149.52L449.50 149.51L449.75 149.49L450.00 149.47L450.25 149.45L450.50 149.43L450.75 149.41L451.00 149.39L451.25 149.38L451.50 149.36L451.75 149.34L452.00 149.32L452.25 149.30L452.50 149.28L452.75 149.26L453.00 149.24L453.25 149.23L453.50 149.21L453.75 149.19L454.00 149.17L454.25 149.15L454.50 149.13L454.75 149.11L455.00 149.10L455.25 149.08L455.50 149.06L455.75 149.04L456.00 149.02L456.25 149.00L456.50 148.98L456.75 148.96L457.00 148.95L457.25 148.93L457.50 148.91L457.75 148.89L458.00 148.87L458.25 148.85L458.50 148.83L458.75 148.82L459.00 148.80L459.25 148.78L459.50 148.76L459.75 148.74L460.00 148.72L460.25 148.71L460.50 148.69L460.75 148.67L461.00 148.65L461.25 148.63L461.50 148.61L461.75 148.59L462.00 148.58L462.25 148.56L462.50 148.54L462.75 148.52L463.00 148.50L463.25 148.48L463.50 148.47L463.75 148.45L464.00 148.43L464.25 148.41L464.50 148.39L464.75 148.38L465.00 148.36L465.25 148.34L465.50 148.32L465.75 148.30L466.00 148.28L466.25 148.27L466.50 148.25L466.75 148.23L467.00 148.21L467.25 148.19L467.50 148.18L467.75 148.16L468.00 148.14L468.25 148.12L468.50 148.11L468.75 148.09L469.00 148.07L469.25 148.05L469.50 148.04L469.75 148.02L470.00 148.00L470.25 147.98L470.50 147.97L470.75 147.95L471.00 147.93L471.25 147.91L471.50 147.90L471.75 147.88L472.00 147.86L472.25 147.84L472.50 147.83L472.75 147.81L473.00 147.79L473.25 147.78L473.50 147.76L473.75 147.74L474.00 147.73L474.25 147.71L474.50 147.69L474.75 147.68L475.00 147.66L475.25 147.64L475.50 147.63L475.75 147.61L476.00 147.59L476.25 147.58L476.50 147.56L476.75 147.54L477.00 147.53L477.25 147.51L477.50 147.49L477.75 147.48L478.00 147.46L478.25 147.44L478.50 147.43L478.75 147.41L479.00 147.39L479.25 147.38L479.50 147.36L479.75 147.34L480.00 147.32L480.25 147.31L480.50 147.29L480.75 147.27L481.00 147.25L481.25 147.24L481.50 147.22L481.75 147.20L482.00 147.18L482.25 147.16L482.50 147.14L482.75 147.12L483.00 147.10L483.25 147.08L483.50 147.05L483.75 147.03L484.00 147.00L484.25 146.97L484.50 146.92L484.75 146.86L485.00 146.77L485.20 146.64L485.25 146.59L485.40 146.38L485.50 146.13L485.60 145.71L485.70 144.88L485.75 144.13L485.80 142.94L485.85 140.93L485.90 137.38L485.94 132.71L485.97 128.34L486.00 125.90L486.03 128.34L486.06 132.70L486.10 137.36L486.15 140.91L486.20 142.91L486.25 144.09L486.30 144.83L486.40 145.65L486.50 146.06L486.60 146.29L486.75 146.48L486.80 146.52L487.00 146.62L487.25 146.67L487.50 146.70L487.75 146.70L488.00 146.70L488.25 146.69L488.50 146.68L488.75 146.67L489.00 146.66L489.25 146.64L489.50 146.63L489.75 146.61L490.00 146.59L490.25 146.58L490.50 146.56L490.75 146.54L491.00 146.52L491.25 146.51L491.50 146.49L491.75 146.47L492.00 146.45L492.25 146.44L492.50 146.42L492.75 146.40L493.00 146.38L493.25 146.36L493.50 146.35L493.75 146.33L494.00 146.31L494.25 146.29L494.50 146.27L494.75 146.26L495.00 146.24L495.25 146.22L495.50 146.20L495.75 146.18L496.00 146.17L496.25 146.15L496.50 146.13L496.75 146.11L497.00 146.09L497.25 146.08L497.50 146.06L497.75 146.04L498.00 146.02L498.25 146.00L498.50 145.99L498.75 145.97L499.00 145.95L499.25 145.93L499.50 145.91L499.75 145.90L500.00 145.88L500.25 145.86L500.50 145.84L500.75 145.82L501.00 145.81L501.25 145.79L501.50 145.77L501.75 145.75L502.00 145.73L502.25 145.72L502.50 145.70L502.75 145.68L503.00 145.66L503.25 145.64L503.50 145.63L503.75 145.61L504.00 145.59L504.25 145.57L504.50 145.56L504.75 145.54L505.00 145.52L505.25 145.50L505.50 145.48L505.75 145.47L506.00 145.45L506.25 145.43L506.50 145.41L506.75 145.39L507.00 145.38L507.25 145.36L507.50 145.34L507.75 145.32L508.00 145.31L508.25 145.29L508.50 145.27L508.75 145.25L509.00 145.23L509.25 145.22L509.50 145.20L509.75 145.18L510.00 145.16L510.25 145.14L510.50 145.13L510.75 145.11L511.00 145.09L511.25 145.07L511.50 145.06L511.75 145.04L512.00 145.02L512.25 145.00L512.50 144.98L512.75 144.97L513.00 144.95L513.25 144.93L513.50 144.91L513.75 144.90L514.00 144.88L514.25 144.86L514.50 144.84L514.75 144.82L515.00 144.81L515.25 144.79L515.50 144.77L515.75 144.75L516.00 144.73L516.25 144.72L516.50 144.70L516.75 144.68L517.00 144.66L517.25 144.65L517.50 144.63L517.75 144.61L518.00 144.59L518.25 144.57L518.50 144.56L518.75 144.54L519.00 144.52L519.25 144.50L519.50 144.49L519.75 144.47L520.00 144.45L520.25 144.43L520.50 144.41L520.75 144.40L521.00 144.38L521.25 144.36L521.50 144.34L521.75 144.33L522.00 144.31L522.25 144.29L522.50 144.27L522.75 144.25L523.00 144.24L523.25 144.22L523.50 144.20L523.75 144.18L524.00 144.17L524.25 144.15L524.50 144.13L524.75 144.11L525.00 144.10L525.25 144.08L525.50 144.06L525.75 144.04L526.00 144.03L526.25 144.01L526.50 143.99L526.75 143.97L527.00 143.96L527.25 143.94L527.50 143.92L527.75 143.90L528.00 143.88L528.25 143.87L528.50 143.85L528.75 143.83L529.00 143.81L529.25 143.80L529.50 143.78L529.75 143.76L530.00 143.74L530.25 143.73L530.50 143.71L530.75 143.69L531.00 143.67L531.25 143.65L531.50 143.64L531.75 143.62L532.00 143.60L532.25 143.58L532.50 143.56L532.75 143.55L533.00 143.53L533.25 143.51L533.50 143.49L533.75 143.47L534.00 143.46L534.25 143.44L534.50 143.42L534.75 143.40L535.00 143.39L535.25 143.37L535.50 143.35L535.75 143.33L536.00 143.32L536.25 143.30L536.50 143.28L536.75 143.26L537.00 143.25L537.25 143.23L537.50 143.21L537.75 143.19L538.00 143.18L538.25 143.16L538.50 143.14L538.75 143.12L539.00 143.11L539.25 143.09L539.50 143.07L539.75 143.05L540.00 143.04L540.25 143.02L540.50 143.00L540.75 142.98L541.00 142.97L541.25 142.95L541.50 142.93L541.75 142.91L542.00 142.90L542.25 142.88L542.50 142.86L542.75 142.84L543.00 142.83L543.25 142.81L543.50 142.79L543.75 142.77L544.00 142.76L544.25 142.74L544.50 142.72L544.75 142.71L545.00 142.69L545.25 142.67L545.50 142.65L545.75 142.64L546.00 142.62L546.25 142.60L546.50 142.58L546.75 142.57L547.00 142.55L547.25 142.53L547.50 142.51L547.75 142.50L548.00 142.48L548.25 142.46L548.50 142.44L548.75 142.43L549.00 142.41L549.25 142.39L549.50 142.37L549.75 142.36L550.00 142.34L550.25 142.32L550.50 142.30L550.75 142.28L551.00 142.27L551.25 142.25L551.50 142.23L551.75 142.21L552.00 142.20L552.25 142.18L552.50 142.16L552.75 142.14L553.00 142.12L553.25 142.11L553.50 142.09L553.75 142.07L554.00 142.05L554.25 142.03L554.50 142.02L554.75 142.00L555.00 141.98L555.25 141.96L555.50 141.94L555.75 141.92L556.00 141.91L556.25 141.89L556.50 141.87L556.75 141.85L557.00 141.83L557.25 141.81L557.50 141.80L557.75 141.78L558.00 141.76L558.25 141.74L558.50 141.72L558.75 141.70L559.00 141.68L559.25 141.66L559.50 141.65L559.75 141.63L560.00 141.61L560.25 141.59L560.50 141.57L560.75 141.55L561.00 141.53L561.25 141.51L561.50 141.49L561.75 141.47L562.00 141.45L562.25 141.43L562.50 141.41L562.75 141.40L563.00 141.38L563.25 141.36L563.50 141.34L563.75 141.32L564.00 141.30L564.25 141.28L564.50 141.26L564.75 141.24L565.00 141.22L565.25 141.20L565.50 141.18L565.75 141.16L566.00 141.14L566.25 141.11L566.50 141.09L566.75 141.07L567.00 141.05L567.25 141.03L567.50 141.01L567.75 140.99L568.00 140.97L568.25 140.95L568.50 140.93L568.75 140.91L569.00 140.89L569.25 140.86L569.50 140.84L569.75 140.82L570.00 140.80L570.25 140.78L570.50 140.76L570.75 140.74L571.00 140.71L571.25 140.69L571.50 140.67L571.75 140.65L572.00 140.63L572.25 140.60L572.50 140.58L572.75 140.56L573.00 140.54L573.25 140.51L573.50 140.49L573.75 140.47L574.00 140.45L574.25 140.42L574.50 140.40L574.75 140.38L575.00 140.35L575.25 140.33L575.50 140.31L575.75 140.28L576.00 140.26L576.25 140.24L576.50 140.21L576.75 140.19L577.00 140.17L577.25 140.14L577.50 140.12L577.75 140.09L578.00 140.07L578.25 140.04L578.50 140.02L578.75 139.99L579.00 139.96L579.25 139.94L579.50 139.91L579.75 139.88L580.00 139.84L580.25 139.79L580.40 139.75L580.50 139.71L580.60 139.66L580.75 139.53L580.80 139.46L580.90 139.20L581.00 138.54L581.05 137.76L581.10 136.11L581.14 133.41L581.17 130.38L581.20 128.50L581.23 130.37L581.25 132.45L581.26 133.40L581.30 136.09L581.35 137.73L581.40 138.50L581.50 139.14L581.60 139.37L581.75 139.52L581.80 139.54L582.00 139.59L582.25 139.60L582.50 139.59L582.75 139.57L583.00 139.55L583.25 139.53L583.50 139.51L583.75 139.49L584.00 139.46L584.25 139.43L584.50 139.41L584.75 139.38L585.00 139.36L585.25 139.33L585.50 139.30L585.75 139.28L586.00 139.25L586.25 139.22L586.50 139.20L586.75 139.17L587.00 139.14L587.25 139.11L587.50 139.09L587.75 139.06L588.00 139.03L588.25 139.00L588.50 138.97L588.75 138.94L589.00 138.92L589.25 138.89L589.50 138.86L589.75 138.83L590.00 138.80L590.25 138.77L590.50 138.74L590.75 138.71L591.00 138.67L591.25 138.64L591.50 138.60L591.75 138.56L592.00 138.52L592.25 138.48L592.50 138.44L592.75 138.40L593.00 138.36L593.25 138.32L593.50 138.27L593.75 138.23L594.00 138.18L594.25 138.14L594.50 138.09L594.75 138.05L595.00 138.00L595.25 137.96L595.50 137.91L595.75 137.86L596.00 137.82L596.25 137.77L596.50 137.73L596.75 137.68L597.00 137.64L597.25 137.59L597.50 137.55L597.75 137.50L598.00 137.46L598.25 137.42L598.50 137.38L598.75 137.33L599.00 137.29L599.25 137.25L599.50 137.22L599.75 137.18L600.00 137.14L600.25 137.11L600.50 137.07L600.75 137.04L601.00 137.01L601.25 136.98L601.50 136.95L601.75 136.92L602.00 136.89L602.25 136.86L602.50 136.84L602.75 136.81L603.00 136.79L603.25 136.77L603.50 136.75L603.75 136.73L604.00 136.71L604.25 136.69L604.50 136.68L604.75 136.67L605.00 136.68L605.25 136.69L605.50 136.71L605.75 136.74L606.00 136.77L606.25 136.79L606.45 136.78L606.50 136.77L606.65 136.67L606.75 136.50L606.85 135.98L606.90 135.31L606.95 133.71L606.99 130.48L607.00 129.10L607.02 125.37L607.05 120.51L607.08 125.40L607.11 130.54L607.15 133.79L607.20 135.40L607.25 136.09L607.35 136.64L607.45 136.85L607.50 136.91L607.65 137.01L607.75 137.03L607.85 137.04L608.00 137.02L608.25 136.90L608.50 136.60L608.75 136.56L609.00 137.68L609.05 137.79L609.25 136.79L609.45 132.23L609.50 130.42L609.55 128.19L609.65 121.88L609.70 117.20L609.75 110.63L609.79 103.02L609.82 95.41L609.85 90.03L609.88 95.19L609.91 102.58L609.95 109.87L610.00 116.01L610.05 120.22L610.15 125.38L610.20 126.91L610.25 127.96L610.40 128.83L610.45 128.50L610.50 127.86L610.60 125.54L610.65 123.80L610.70 121.58L610.75 118.77L610.80 115.19L610.85 110.52L610.90 104.24L610.94 97.55L610.97 91.90L611.00 88.73L611.03 91.55L611.06 96.84L611.10 103.07L611.15 108.82L611.20 112.99L611.25 116.15L611.30 118.60L611.40 122.14L611.50 124.51L611.60 126.17L611.75 127.88L611.80 128.33L612.00 129.80L612.25 131.46L612.50 132.79L612.75 133.91L613.00 134.44L613.25 134.68L613.50 134.81L613.75 134.87L614.00 134.89L614.25 134.89L614.50 134.90L614.75 134.91L615.00 134.92L615.25 134.91L615.50 134.90L615.75 134.89L616.00 134.88L616.25 134.86L616.50 134.84L616.75 134.82L617.00 134.80L617.25 134.78L617.50 134.76L617.75 134.74L618.00 134.72L618.25 134.70L618.50 134.68L618.75 134.66L619.00 134.64L619.25 134.62L619.50 134.60L619.75 134.59L620.00 134.57L620.25 134.55L620.50 134.54L620.75 134.52L621.00 134.50L621.25 134.48L621.50 134.46L621.75 134.44L622.00 134.42L622.25 134.40L622.50 134.37L622.75 134.35L623.00 134.32L623.25 134.30L623.50 134.27L623.75 134.25L624.00 134.22L624.25 134.19L624.50 134.17L624.75 134.14L625.00 134.11L625.25 134.08L625.50 134.05L625.75 134.02L626.00 133.98L626.25 133.95L626.50 133.91L626.75 133.87L627.00 133.83L627.25 133.79L627.50 133.75L627.75 133.70L628.00 133.65L628.25 133.59L628.50 133.54L628.75 133.48L629.00 133.41L629.25 133.35L629.50 133.28L629.75 133.21L630.00 133.13L630.25 133.06L630.50 132.98L630.75 132.89L631.00 132.81L631.25 132.72L631.50 132.62L631.75 132.52L632.00 132.41L632.25 132.28L632.50 132.16L632.75 132.02L633.00 131.88L633.25 131.74L633.50 131.59L633.75 131.43L634.00 131.27L634.25 131.12L634.50 130.95L634.75 130.78L635.00 130.58L635.25 130.36L635.50 130.10L635.75 129.81L636.00 129.44L636.25 128.94L636.50 128.31L636.75 127.59L637.00 126.73L637.25 125.51L637.35 124.87L637.50 124.07L637.55 123.98L637.75 122.32L637.85 119.18L637.95 113.81L638.00 109.71L638.05 104.02L638.09 97.88L638.12 92.77L638.15 90.05L638.18 92.75L638.21 97.83L638.25 103.90L638.30 109.47L638.35 113.37L638.45 118.14L638.50 119.55L638.55 120.52L638.75 121.55L638.95 119.53L639.00 118.60L639.15 114.52L639.25 110.34L639.35 104.28L639.40 100.21L639.45 95.24L639.49 90.86L639.50 89.82L639.52 88.05L639.55 86.85L639.58 87.96L639.61 90.69L639.65 94.97L639.70 99.80L639.75 103.75L639.85 109.60L639.95 113.64L640.00 115.21L640.15 118.72L640.25 120.34L640.35 121.54L640.50 122.55L640.75 123.79L641.00 124.92L641.25 125.67L641.50 126.20L641.75 126.67L642.00 127.12L642.25 127.53L642.50 127.88L642.75 128.15L643.00 128.30L643.25 128.33L643.50 128.25L643.75 128.07L644.00 127.81L644.25 127.47L644.50 127.05L644.75 126.56L645.00 126.00L645.25 124.97L645.50 123.53L645.75 122.32L646.00 121.26L646.25 119.81L646.50 116.77L646.70 110.98L646.75 109.48L646.90 106.00L647.00 104.18L647.10 101.63L647.20 97.92L647.25 95.38L647.30 92.20L647.35 88.12L647.40 82.85L647.44 77.79L647.47 74.22L647.50 72.60L647.53 74.19L647.56 77.73L647.60 82.74L647.65 87.96L647.70 91.98L647.75 95.11L647.80 97.59L647.90 101.20L648.00 103.64L648.10 105.34L648.25 107.47L648.30 108.38L648.50 112.72L648.75 118.15L649.00 122.41L649.25 124.92L649.50 125.80L649.75 126.42L650.00 126.86L650.25 127.20L650.50 127.50L650.75 127.79L651.00 128.06L651.25 128.30L651.50 128.51L651.75 128.67L652.00 128.77L652.25 128.83L652.50 128.88L652.75 128.92L653.00 128.96L653.25 128.99L653.50 129.02L653.75 129.05L654.00 129.08L654.25 129.10L654.50 129.12L654.75 129.14L655.00 129.15L655.25 129.17L655.50 129.18L655.75 129.19L656.00 129.19L656.25 129.20L656.50 129.20L656.75 129.19L657.00 129.17L657.25 129.14L657.50 129.11L657.75 129.06L658.00 129.01L658.25 128.96L658.50 128.89L658.75 128.82L659.00 128.75L659.25 128.67L659.50 128.59L659.75 128.50L660.00 128.41L660.25 128.32L660.50 128.23L660.75 128.13L661.00 128.04L661.25 127.94L661.50 127.84L661.75 127.75L662.00 127.65L662.25 127.56L662.50 127.47L662.75 127.38L663.00 127.30L663.25 127.22L663.50 127.14L663.75 127.06L664.00 126.98L664.25 126.91L664.50 126.83L664.75 126.75L665.00 126.68L665.25 126.60L665.50 126.52L665.75 126.44L666.00 126.36L666.25 126.27L666.50 126.19L666.75 126.10L667.00 126.01L667.25 125.91L667.50 125.81L667.75 125.71L668.00 125.60L668.25 125.49L668.50 125.37L668.75 125.25L669.00 125.13L669.25 125.00L669.50 124.87L669.75 124.73L670.00 124.59L670.25 124.44L670.50 124.28L670.75 124.12L671.00 123.96L671.25 123.79L671.50 123.61L671.75 123.43L672.00 123.24L672.25 123.04L672.50 122.83L672.75 122.61L673.00 122.37L673.25 122.11L673.50 121.84L673.75 121.55L674.00 121.25L674.25 120.93L674.50 120.61L674.75 120.27L675.00 119.92L675.25 119.54L675.50 119.15L675.75 118.73L676.00 118.30L676.25 117.84L676.50 117.37L676.75 116.88L677.00 116.38L677.25 115.86L677.50 115.32L677.75 114.78L678.00 114.26L678.25 113.74L678.50 113.19L678.75 112.57L679.00 111.86L679.25 111.01L679.50 110.00L679.75 108.39L680.00 106.07L680.25 103.49L680.50 101.10L680.75 98.81L681.00 95.33L681.25 89.38L681.50 82.27" fill="none" stroke="#ff1414" stroke-width="1.0" stroke-linejoin="round"/>
<path d="M81.00 166.11L81.25 166.09L81.50 166.07L81.75 166.04L82.00 166.02L82.25 165.99L82.50 165.97L82.75 165.94L83.00 165.92L83.25 165.90L83.50 165.87L83.75 165.85L84.00 165.82L84.25 165.80L84.50 165.78L84.75 165.75L85.00 165.73L85.25 165.70L85.50 165.68L85.75 165.66L86.00 165.63L86.25 165.61L86.50 165.59L86.75 165.56L87.00 165.54L87.25 165.52L87.50 165.49L87.75 165.47L88.00 165.45L88.25 165.42L88.50 165.40L88.75 165.38L89.00 165.35L89.25 165.33L89.50 165.31L89.75 165.28L90.00 165.26L90.25 165.24L90.50 165.21L90.75 165.19L91.00 165.17L91.25 165.14L91.50 165.12L91.75 165.10L92.00 165.08L92.25 165.05L92.50 165.03L92.75 165.01L93.00 164.98L93.25 164.96L93.50 164.94L93.75 164.92L94.00 164.89L94.25 164.87L94.50 164.85L94.75 164.83L95.00 164.80L95.25 164.78L95.50 164.76L95.75 164.74L96.00 164.71L96.25 164.69L96.50 164.67L96.75 164.65L97.00 164.62L97.25 164.60L97.50 164.58L97.75 164.56L98.00 164.54L98.25 164.51L98.50 164.49L98.75 164.47L99.00 164.45L99.25 164.43L99.50 164.40L99.75 164.38L100.00 164.36L100.25 164.34L100.50 164.32L100.75 164.29L101.00 164.27L101.25 164.25L101.50 164.23L101.75 164.21L102.00 164.19L102.25 164.16L102.50 164.14L102.75 164.12L103.00 164.10L103.25 164.08L103.50 164.06L103.75 164.03L104.00 164.01L104.25 163.99L104.50 163.97L104.75 163.95L105.00 163.93L105.25 163.91L105.50 163.89L105.75 163.86L106.00 163.84L106.25 163.82L106.50 163.80L106.75 163.78L107.00 163.76L107.25 163.74L107.50 163.72L107.75 163.70L108.00 163.67L108.25 163.65L108.50 163.63L108.75 163.61L109.00 163.59L109.25 163.57L109.50 163.55L109.75 163.53L110.00 163.51L110.25 163.49L110.50 163.47L110.75 163.44L111.00 163.42L111.25 163.40L111.50 163.38L111.75 163.36L112.00 163.34L112.25 163.32L112.50 163.30L112.75 163.28L113.00 163.26L113.25 163.24L113.50 163.22L113.75 163.20L114.00 163.18L114.25 163.16L114.50 163.14L114.75 163.12L115.00 163.10L115.25 163.08L115.50 163.06L115.75 163.04L116.00 163.02L116.25 162.99L116.50 162.97L116.75 162.95L117.00 162.93L117.25 162.91L117.50 162.89L117.75 162.87L118.00 162.85L118.25 162.83L118.50 162.81L118.75 162.79L119.00 162.77L119.25 162.75L119.50 162.73L119.75 162.71L120.00 162.69L120.25 162.67L120.50 162.65L120.75 162.63L121.00 162.61L121.25 162.60L121.50 162.58L121.75 162.56L122.00 162.54L122.25 162.52L122.50 162.50L122.75 162.48L123.00 162.46L123.25 162.44L123.50 162.42L123.75 162.40L124.00 162.38L124.25 162.36L124.50 162.34L124.75 162.32L125.00 162.30L125.25 162.28L125.50 162.26L125.75 162.24L126.00 162.22L126.25 162.20L126.50 162.18L126.75 162.16L127.00 162.15L127.25 162.13L127.50 162.11L127.75 162.09L128.00 162.07L128.25 162.05L128.50 162.03L128.75 162.01L129.00 161.99L129.25 161.98L129.50 161.96L129.75 161.94L130.00 161.92L130.25 161.90L130.50 161.88L130.75 161.86L131.00 161.84L131.25 161.82L131.50 161.80L131.75 161.78L132.00 161.75L132.25 161.73L132.50 161.70L132.75 161.67L133.00 161.64L133.25 161.59L133.50 161.52L133.75 161.39L133.80 161.36L134.00 161.12L134.20 160.50L134.25 160.18L134.30 159.72L134.40 157.91L134.45 156.00L134.50 152.58L134.54 148.02L134.57 143.72L134.60 141.30L134.63 143.71L134.66 148.01L134.70 152.57L134.75 155.98L134.80 157.88L134.90 159.68L135.00 160.44L135.20 161.03L135.25 161.10L135.40 161.24L135.50 161.30L135.75 161.37L136.00 161.40L136.25 161.41L136.50 161.41L136.75 161.40L137.00 161.39L137.25 161.38L137.50 161.37L137.75 161.35L138.00 161.34L138.25 161.32L138.50 161.31L138.75 161.29L139.00 161.28L139.25 161.26L139.50 161.24L139.75 161.22L140.00 161.21L140.25 161.19L140.50 161.17L140.75 161.15L141.00 161.13L141.25 161.11L141.50 161.09L141.75 161.06L142.00 161.03L142.10 161.01L142.25 160.96L142.30 160.94L142.50 160.80L142.60 160.61L142.70 160.14L142.75 159.56L142.80 158.30L142.84 156.13L142.87 153.56L142.90 151.90L142.93 153.55L142.96 156.12L143.00 158.29L143.05 159.54L143.10 160.11L143.20 160.57L143.25 160.68L143.30 160.74L143.50 160.86L143.70 160.90L143.75 160.90L144.00 160.90L144.25 160.90L144.50 160.89L144.75 160.87L145.00 160.86L145.25 160.84L145.50 160.83L145.75 160.81L146.00 160.79L146.25 160.78L146.50 160.76L146.75 160.74L147.00 160.73L147.25 160.71L147.50 160.69L147.75 160.68L148.00 160.66L148.25 160.64L148.50 160.63L148.75 160.61L149.00 160.59L149.25 160.57L149.50 160.56L149.75 160.54L150.00 160.52L150.25 160.51L150.50 160.49L150.75 160.47L151.00 160.45L151.25 160.44L151.50 160.42L151.75 160.40L152.00 160.38L152.25 160.37L152.50 160.35L152.75 160.33L153.00 160.32L153.25 160.30L153.50 160.28L153.75 160.26L154.00 160.25L154.25 160.23L154.50 160.21L154.75 160.19L155.00 160.17L155.25 160.16L155.50 160.14L155.75 160.12L156.00 160.10L156.25 160.08L156.50 160.07L156.75 160.05L157.00 160.03L157.25 160.01L157.50 159.99L157.75 159.97L158.00 159.95L158.25 159.93L158.50 159.91L158.75 159.89L159.00 159.87L159.25 159.85L159.50 159.83L159.75 159.80L160.00 159.78L160.25 159.75L160.50 159.72L160.75 159.69L161.00 159.66L161.25 159.62L161.50 159.58L161.75 159.53L162.00 159.47L162.25 159.39L162.50 159.29L162.75 159.14L163.00 158.93L163.25 158.58L163.50 157.96L163.60 157.56L163.75 156.67L163.80 156.25L164.00 153.36L164.10 150.55L164.20 145.77L164.25 142.13L164.30 137.30L164.34 132.62L164.37 129.36L164.40 127.90L164.43 129.35L164.46 132.61L164.50 137.29L164.55 142.11L164.60 145.74L164.70 150.51L164.75 152.08L164.80 153.31L165.00 156.17L165.20 157.46L165.25 157.66L165.50 158.34L165.75 158.69L166.00 158.89L166.25 159.01L166.50 159.09L166.75 159.14L167.00 159.17L167.25 159.19L167.50 159.20L167.75 159.20L168.00 159.20L168.25 159.20L168.50 159.20L168.75 159.19L169.00 159.18L169.25 159.17L169.50 159.16L169.75 159.15L170.00 159.14L170.25 159.12L170.50 159.11L170.75 159.10L171.00 159.08L171.25 159.07L171.50 159.05L171.75 159.04L172.00 159.02L172.25 159.01L172.50 158.99L172.75 158.98L173.00 158.96L173.25 158.95L173.50 158.93L173.75 158.91L174.00 158.90L174.25 158.88L174.50 158.87L174.75 158.85L175.00 158.83L175.25 158.82L175.50 158.80L175.75 158.78L176.00 158.77L176.25 158.75L176.50 158.73L176.75 158.72L177.00 158.70L177.25 158.68L177.50 158.67L177.75 158.65L178.00 158.63L178.25 158.62L178.50 158.60L178.75 158.58L179.00 158.57L179.25 158.55L179.50 158.53L179.75 158.52L180.00 158.50L180.25 158.48L180.50 158.47L180.75 158.45L181.00 158.43L181.25 158.42L181.50 158.40L181.75 158.38L182.00 158.36L182.25 158.35L182.50 158.33L182.75 158.31L183.00 158.30L183.25 158.28L183.50 158.26L183.75 158.25L184.00 158.23L184.25 158.21L184.50 158.20L184.75 158.18L185.00 158.16L185.25 158.15L185.50 158.13L185.75 158.11L186.00 158.09L186.25 158.08L186.50 158.06L186.75 158.04L187.00 158.03L187.25 158.01L187.50 157.99L187.75 157.98L188.00 157.96L188.25 157.94L188.50 157.93L188.75 157.91L189.00 157.89L189.25 157.88L189.50 157.86L189.75 157.84L190.00 157.82L190.25 157.81L190.50 157.79L190.75 157.77L191.00 157.76L191.25 157.74L191.50 157.72L191.75 157.71L192.00 157.69L192.25 157.67L192.50 157.66L192.75 157.64L193.00 157.62L193.25 157.60L193.50 157.59L193.75 157.57L194.00 157.55L194.25 157.53L194.50 157.52L194.75 157.50L195.00 157.48L195.25 157.46L195.50 157.44L195.75 157.42L196.00 157.40L196.25 157.37L196.50 157.33L196.70 157.27L196.75 157.24L196.90 157.12L197.00 156.94L197.10 156.47L197.15 155.90L197.20 154.66L197.24 152.51L197.25 151.72L197.27 149.95L197.30 148.30L197.33 149.94L197.36 152.50L197.40 154.64L197.45 155.88L197.50 156.44L197.60 156.90L197.70 157.07L197.75 157.11L197.90 157.19L198.00 157.21L198.10 157.22L198.25 157.23L198.50 157.23L198.75 157.22L199.00 157.21L199.25 157.19L199.50 157.18L199.75 157.16L200.00 157.15L200.25 157.13L200.50 157.11L200.75 157.10L201.00 157.08L201.25 157.06L201.50 157.05L201.75 157.03L202.00 157.01L202.25 157.00L202.50 156.98L202.75 156.96L203.00 156.95L203.25 156.93L203.50 156.91L203.75 156.90L204.00 156.88L204.25 156.86L204.50 156.85L204.75 156.83L205.00 156.81L205.25 156.79L205.50 156.78L205.75 156.76L206.00 156.74L206.25 156.73L206.50 156.71L206.75 156.69L207.00 156.68L207.25 156.66L207.50 156.64L207.75 156.62L208.00 156.61L208.25 156.59L208.50 156.57L208.75 156.56L209.00 156.54L209.25 156.52L209.50 156.50L209.75 156.49L210.00 156.47L210.25 156.45L210.50 156.44L210.75 156.42L211.00 156.40L211.25 156.38L211.50 156.37L211.75 156.35L212.00 156.33L212.25 156.31L212.50 156.30L212.75 156.28L213.00 156.26L213.25 156.25L213.50 156.23L213.75 156.21L214.00 156.19L214.25 156.18L214.50 156.16L214.75 156.14L215.00 156.12L215.25 156.11L215.50 156.09L215.75 156.07L216.00 156.05L216.25 156.04L216.50 156.02L216.75 156.00L217.00 155.98L217.25 155.97L217.50 155.95L217.75 155.93L218.00 155.91L218.25 155.90L218.50 155.88L218.75 155.86L219.00 155.84L219.25 155.82L219.50 155.81L219.75 155.79L220.00 155.77L220.25 155.75L220.50 155.73L220.75 155.72L221.00 155.70L221.25 155.68L221.50 155.66L221.75 155.64L222.00 155.63L222.25 155.61L222.50 155.59L222.75 155.57L223.00 155.55L223.25 155.53L223.50 155.52L223.75 155.50L224.00 155.48L224.25 155.46L224.50 155.44L224.75 155.42L225.00 155.40L225.25 155.38L225.50 155.36L225.75 155.34L226.00 155.32L226.25 155.30L226.50 155.27L226.75 155.25L227.00 155.23L227.25 155.20L227.50 155.17L227.75 155.14L228.00 155.11L228.25 155.07L228.50 155.02L228.75 154.96L229.00 154.87L229.25 154.75L229.50 154.56L229.75 154.20L229.80 154.09L230.00 153.39L230.20 151.69L230.25 150.90L230.30 149.81L230.40 146.14L230.45 142.99L230.50 138.37L230.54 133.37L230.57 129.49L230.60 127.60L230.63 129.48L230.66 133.36L230.70 138.35L230.75 142.97L230.80 146.11L230.90 149.77L231.00 151.63L231.20 153.30L231.25 153.52L231.40 153.97L231.50 154.16L231.75 154.44L232.00 154.57L232.25 154.65L232.50 154.69L232.75 154.71L233.00 154.72L233.25 154.72L233.50 154.71L233.75 154.71L234.00 154.70L234.25 154.69L234.50 154.67L234.75 154.66L235.00 154.65L235.25 154.63L235.50 154.62L235.75 154.60L236.00 154.58L236.25 154.57L236.50 154.55L236.75 154.53L237.00 154.51L237.25 154.50L237.50 154.48L237.75 154.46L238.00 154.44L238.25 154.43L238.50 154.41L238.75 154.39L239.00 154.37L239.25 154.35L239.50 154.34L239.75 154.32L240.00 154.30L240.25 154.28L240.50 154.26L240.75 154.25L241.00 154.23L241.25 154.21L241.50 154.19L241.75 154.17L242.00 154.15L242.25 154.13L242.50 154.11L242.75 154.10L243.00 154.08L243.25 154.06L243.50 154.04L243.75 154.02L244.00 154.00L244.25 153.98L244.50 153.96L244.75 153.94L245.00 153.92L245.25 153.90L245.50 153.88L245.75 153.86L246.00 153.84L246.25 153.82L246.50 153.80L246.75 153.78L247.00 153.77L247.25 153.75L247.50 153.73L247.75 153.71L248.00 153.69L248.25 153.67L248.50 153.65L248.75 153.63L249.00 153.61L249.25 153.59L249.50 153.57L249.75 153.55L250.00 153.53L250.25 153.51L250.50 153.49L250.75 153.47L251.00 153.45L251.25 153.43L251.50 153.41L251.75 153.39L252.00 153.37L252.25 153.35L252.50 153.33L252.75 153.31L253.00 153.29L253.25 153.27L253.50 153.25L253.75 153.23L254.00 153.21L254.25 153.19L254.50 153.17L254.75 153.15L255.00 153.13L255.25 153.11L255.50 153.09L255.75 153.07L256.00 153.05L256.25 153.03L256.50 153.01L256.75 152.99L257.00 152.97L257.25 152.94L257.50 152.92L257.75 152.89L258.00 152.87L258.25 152.83L258.50 152.78L258.60 152.75L258.75 152.68L258.80 152.65L259.00 152.40L259.10 152.08L259.20 151.27L259.25 150.33L259.30 148.39L259.34 145.33L259.37 142.01L259.40 140.00L259.43 142.00L259.46 145.32L259.50 148.37L259.55 150.31L259.60 151.24L259.70 152.03L259.75 152.22L259.80 152.34L260.00 152.56L260.20 152.63L260.25 152.64L260.50 152.66L260.75 152.66L261.00 152.65L261.25 152.64L261.50 152.63L261.75 152.61L262.00 152.60L262.25 152.58L262.50 152.57L262.75 152.55L263.00 152.53L263.25 152.52L263.50 152.50L263.75 152.48L264.00 152.47L264.25 152.45L264.50 152.43L264.75 152.42L265.00 152.40L265.25 152.39L265.50 152.37L265.75 152.35L266.00 152.34L266.25 152.32L266.50 152.31L266.75 152.29L267.00 152.27L267.25 152.26L267.50 152.24L267.75 152.23L268.00 152.21L268.25 152.20L268.50 152.18L268.75 152.17L269.00 152.16L269.25 152.14L269.50 152.13L269.75 152.11L270.00 152.10L270.25 152.09L270.50 152.07L270.75 152.06L271.00 152.05L271.25 152.03L271.50 152.02L271.75 152.01L272.00 151.99L272.25 151.98L272.50 151.97L272.75 151.96L273.00 151.94L273.25 151.93L273.50 151.92L273.75 151.91L274.00 151.89L274.25 151.88L274.50 151.87L274.75 151.86L275.00 151.85L275.25 151.84L275.50 151.82L275.75 151.81L276.00 151.80L276.25 151.79L276.50 151.78L276.75 151.77L277.00 151.76L277.25 151.74L277.50 151.73L277.75 151.72L278.00 151.71L278.25 151.70L278.50 151.69L278.75 151.68L279.00 151.67L279.25 151.66L279.50 151.65L279.75 151.64L280.00 151.62L280.25 151.61L280.50 151.60L280.75 151.59L281.00 151.58L281.25 151.57L281.50 151.56L281.75 151.55L282.00 151.54L282.25 151.53L282.50 151.52L282.75 151.51L283.00 151.50L283.25 151.49L283.50 151.48L283.75 151.47L284.00 151.46L284.25 151.45L284.50 151.44L284.75 151.43L285.00 151.42L285.25 151.40L285.50 151.39L285.75 151.38L286.00 151.37L286.25 151.36L286.50 151.35L286.75 151.34L287.00 151.33L287.25 151.32L287.50 151.31L287.75 151.30L288.00 151.29L288.25 151.28L288.50 151.27L288.75 151.26L289.00 151.24L289.25 151.23L289.50 151.22L289.75 151.21L290.00 151.20L290.25 151.19L290.50 151.18L290.75 151.17L291.00 151.16L291.25 151.14L291.50 151.13L291.75 151.12L292.00 151.11L292.25 151.10L292.50 151.09L292.75 151.08L293.00 151.06L293.25 151.05L293.50 151.04L293.75 151.03L294.00 151.02L294.25 151.01L294.50 151.00L294.75 150.99L295.00 150.97L295.25 150.96L295.50 150.95L295.75 150.94L296.00 150.92L296.25 150.91L296.50 150.90L296.75 150.88L296.95 150.86L297.00 150.85L297.15 150.82L297.25 150.79L297.35 150.74L297.45 150.64L297.50 150.54L297.55 150.38L297.60 150.05L297.65 149.31L297.69 147.92L297.72 146.13L297.75 144.90L297.78 146.13L297.81 147.92L297.85 149.30L297.90 150.04L297.95 150.36L298.00 150.52L298.05 150.61L298.15 150.71L298.25 150.75L298.35 150.77L298.50 150.78L298.55 150.79L298.75 150.79L299.00 150.78L299.25 150.78L299.50 150.77L299.75 150.76L300.00 150.75L300.25 150.74L300.50 150.73L300.75 150.72L301.00 150.71L301.25 150.70L301.50 150.69L301.75 150.68L302.00 150.67L302.25 150.66L302.50 150.64L302.75 150.63L303.00 150.62L303.25 150.61L303.50 150.60L303.75 150.59L304.00 150.58L304.25 150.57L304.50 150.56L304.75 150.55L305.00 150.54L305.25 150.53L305.50 150.52L305.75 150.51L306.00 150.49L306.25 150.48L306.50 150.47L306.75 150.46L307.00 150.45L307.25 150.44L307.50 150.43L307.75 150.42L308.00 150.41L308.25 150.40L308.50 150.39L308.75 150.38L309.00 150.37L309.25 150.36L309.50 150.35L309.75 150.33L310.00 150.32L310.25 150.31L310.50 150.30L310.75 150.29L311.00 150.28L311.25 150.27L311.50 150.26L311.75 150.25L312.00 150.24L312.25 150.23L312.50 150.22L312.75 150.21L313.00 150.19L313.25 150.18L313.50 150.17L313.75 150.16L314.00 150.15L314.25 150.14L314.50 150.13L314.75 150.11L315.00 150.10L315.25 150.08L315.40 150.06L315.50 150.05L315.60 150.03L315.75 149.97L315.80 149.94L315.90 149.84L316.00 149.57L316.05 149.24L316.10 148.48L316.14 147.07L316.17 145.25L316.20 144.00L316.23 145.25L316.25 146.52L316.26 147.06L316.30 148.47L316.35 149.22L316.40 149.55L316.50 149.81L316.60 149.91L316.75 149.96L316.80 149.97L317.00 149.99L317.25 149.99L317.50 149.99L317.75 149.98L318.00 149.97L318.25 149.96L318.50 149.95L318.75 149.94L319.00 149.93L319.25 149.92L319.50 149.91L319.75 149.90L320.00 149.89L320.25 149.88L320.50 149.87L320.75 149.86L321.00 149.85L321.25 149.83L321.50 149.82L321.75 149.81L322.00 149.80L322.25 149.79L322.50 149.78L322.75 149.77L323.00 149.76L323.25 149.75L323.50 149.74L323.75 149.73L324.00 149.72L324.25 149.71L324.50 149.70L324.75 149.69L325.00 149.68L325.25 149.67L325.50 149.66L325.75 149.65L326.00 149.64L326.25 149.63L326.50 149.62L326.75 149.61L327.00 149.60L327.25 149.58L327.50 149.57L327.75 149.56L328.00 149.54L328.25 149.53L328.50 149.51L328.75 149.50L329.00 149.48L329.25 149.46L329.50 149.44L329.75 149.42L330.00 149.40L330.25 149.38L330.50 149.35L330.75 149.33L331.00 149.30L331.25 149.26L331.50 149.23L331.75 149.19L332.00 149.15L332.25 149.11L332.50 149.06L332.75 149.00L333.00 148.95L333.25 148.88L333.50 148.82L333.75 148.74L334.00 148.66L334.25 148.57L334.50 148.48L334.75 148.37L335.00 148.25L335.25 148.06L335.50 147.77L335.75 147.40L336.00 146.98L336.25 146.54L336.50 146.09L336.75 145.62L337.00 145.10L337.25 144.35L337.50 142.98L337.70 140.92L337.75 140.16L337.90 136.87L338.00 133.35L338.10 127.94L338.15 124.14L338.20 119.41L338.24 115.18L338.25 114.17L338.27 112.45L338.30 111.30L338.33 112.45L338.36 115.18L338.40 119.43L338.45 124.16L338.50 127.97L338.60 133.39L338.70 136.93L338.75 138.24L338.90 141.00L339.00 142.20L339.10 143.09L339.25 144.04L339.50 145.02L339.75 145.60L340.00 146.08L340.25 146.54L340.50 146.97L340.75 147.30L341.00 147.50L341.25 147.60L341.50 147.68L341.75 147.74L342.00 147.80L342.25 147.85L342.50 147.89L342.75 147.92L343.00 147.95L343.25 147.98L343.50 148.00L343.75 148.02L344.00 148.04L344.25 148.06L344.50 148.07L344.75 148.09L345.00 148.10L345.25 148.11L345.50 148.13L345.75 148.14L346.00 148.15L346.25 148.16L346.50 148.17L346.75 148.18L347.00 148.19L347.25 148.20L347.50 148.20L347.75 148.21L348.00 148.22L348.25 148.22L348.50 148.23L348.75 148.24L349.00 148.24L349.25 148.24L349.50 148.25L349.75 148.25L350.00 148.25L350.25 148.25L350.50 148.25L350.75 148.25L351.00 148.25L351.25 148.25L351.50 148.24L351.75 148.24L352.00 148.24L352.25 148.23L352.50 148.23L352.75 148.22L353.00 148.21L353.25 148.21L353.50 148.20L353.75 148.19L354.00 148.18L354.25 148.17L354.50 148.16L354.75 148.15L355.00 148.14L355.25 148.13L355.50 148.12L355.75 148.11L356.00 148.09L356.25 148.08L356.50 148.07L356.75 148.05L357.00 148.04L357.25 148.02L357.50 148.01L357.75 147.99L358.00 147.97L358.25 147.96L358.50 147.94L358.75 147.92L359.00 147.91L359.25 147.89L359.50 147.87L359.75 147.85L360.00 147.83L360.25 147.81L360.50 147.79L360.75 147.77L361.00 147.75L361.25 147.73L361.50 147.71L361.75 147.69L362.00 147.67L362.25 147.65L362.50 147.63L362.75 147.61L363.00 147.58L363.25 147.56L363.50 147.54L363.75 147.52L364.00 147.49L364.25 147.47L364.50 147.45L364.75 147.43L365.00 147.40L365.25 147.38L365.50 147.35L365.75 147.33L366.00 147.31L366.25 147.28L366.50 147.26L366.75 147.24L367.00 147.21L367.25 147.19L367.50 147.16L367.75 147.14L368.00 147.11L368.25 147.09L368.50 147.07L368.75 147.04L369.00 147.02L369.25 146.99L369.50 146.97L369.75 146.95L370.00 146.92L370.25 146.90L370.50 146.87L370.75 146.85L371.00 146.83L371.25 146.80L371.50 146.78L371.75 146.75L372.00 146.73L372.25 146.71L372.50 146.68L372.75 146.66L373.00 146.64L373.25 146.62L373.50 146.59L373.75 146.57L374.00 146.55L374.25 146.53L374.50 146.51L374.75 146.48L375.00 146.46L375.25 146.44L375.50 146.42L375.75 146.40L376.00 146.38L376.25 146.36L376.50 146.34L376.75 146.32L377.00 146.30L377.25 146.28L377.50 146.27L377.75 146.25L378.00 146.23L378.25 146.21L378.50 146.19L378.75 146.18L379.00 146.16L379.25 146.15L379.50 146.13L379.75 146.11L380.00 146.10L380.25 146.09L380.50 146.07L380.75 146.06L381.00 146.04L381.25 146.03L381.50 146.01L381.75 146.00L382.00 145.99L382.25 145.97L382.50 145.96L382.75 145.95L383.00 145.93L383.25 145.92L383.50 145.91L383.75 145.89L384.00 145.88L384.25 145.87L384.50 145.85L384.75 145.84L385.00 145.83L385.25 145.82L385.50 145.80L385.75 145.79L386.00 145.78L386.25 145.76L386.50 145.75L386.75 145.74L387.00 145.73L387.25 145.72L387.50 145.70L387.75 145.69L388.00 145.68L388.25 145.67L388.50 145.65L388.75 145.64L389.00 145.63L389.25 145.62L389.50 145.61L389.75 145.59L390.00 145.58L390.25 145.57L390.50 145.56L390.75 145.55L391.00 145.54L391.25 145.52L391.50 145.51L391.75 145.50L392.00 145.49L392.25 145.48L392.50 145.46L392.75 145.45L393.00 145.44L393.25 145.43L393.50 145.42L393.75 145.41L394.00 145.39L394.25 145.38L394.50 145.37L394.75 145.36L395.00 145.35L395.25 145.33L395.50 145.32L395.75 145.31L396.00 145.30L396.25 145.29L396.50 145.27L396.75 145.26L397.00 145.25L397.25 145.24L397.50 145.23L397.75 145.21L398.00 145.20L398.25 145.19L398.50 145.18L398.75 145.16L399.00 145.15L399.25 145.14L399.50 145.13L399.75 145.11L400.00 145.10L400.25 145.09L400.50 145.07L400.75 145.06L401.00 145.05L401.25 145.04L401.50 145.02L401.75 145.01L402.00 145.00L402.25 144.99L402.50 144.97L402.75 144.96L403.00 144.95L403.25 144.94L403.50 144.93L403.75 144.91L404.00 144.90L404.25 144.89L404.50 144.88L404.75 144.87L405.00 144.85L405.25 144.84L405.50 144.83L405.75 144.82L406.00 144.81L406.25 144.79L406.50 144.78L406.75 144.77L407.00 144.76L407.25 144.75L407.50 144.74L407.75 144.72L408.00 144.71L408.25 144.70L408.50 144.69L408.75 144.68L409.00 144.67L409.25 144.65L409.50 144.64L409.75 144.63L410.00 144.62L410.25 144.61L410.50 144.60L410.75 144.58L411.00 144.57L411.25 144.56L411.50 144.55L411.75 144.54L412.00 144.53L412.25 144.51L412.50 144.50L412.75 144.49L413.00 144.48L413.25 144.47L413.50 144.45L413.75 144.44L414.00 144.43L414.25 144.42L414.50 144.41L414.75 144.39L415.00 144.38L415.25 144.37L415.50 144.36L415.75 144.34L416.00 144.33L416.25 144.32L416.50 144.31L416.75 144.30L417.00 144.28L417.25 144.27L417.50 144.26L417.75 144.24L418.00 144.23L418.25 144.22L418.50 144.21L418.75 144.19L419.00 144.18L419.25 144.17L419.50 144.15L419.75 144.14L420.00 144.13L420.25 144.11L420.50 144.10L420.75 144.09L421.00 144.07L421.25 144.06L421.50 144.04L421.75 144.03L422.00 144.02L422.25 144.00L422.50 143.99L422.75 143.97L423.00 143.96L423.25 143.94L423.50 143.93L423.75 143.91L424.00 143.90L424.25 143.88L424.50 143.87L424.75 143.85L425.00 143.84L425.25 143.82L425.50 143.81L425.75 143.79L426.00 143.77L426.25 143.76L426.50 143.74L426.75 143.73L427.00 143.71L427.25 143.69L427.50 143.68L427.75 143.66L428.00 143.64L428.25 143.62L428.50 143.61L428.75 143.59L429.00 143.57L429.25 143.55L429.50 143.54L429.75 143.52L430.00 143.50L430.25 143.48L430.50 143.46L430.75 143.44L431.00 143.42L431.25 143.40L431.50 143.38L431.75 143.35L432.00 143.33L432.25 143.30L432.50 143.28L432.75 143.25L433.00 143.23L433.25 143.20L433.50 143.18L433.75 143.15L434.00 143.12L434.25 143.10L434.50 143.07L434.75 143.04L435.00 143.01L435.25 142.99L435.50 142.96L435.75 142.93L436.00 142.90L436.25 142.87L436.50 142.85L436.75 142.82L437.00 142.79L437.25 142.77L437.50 142.74L437.75 142.71L438.00 142.69L438.25 142.66L438.50 142.64L438.75 142.61L439.00 142.59L439.25 142.57L439.50 142.54L439.75 142.52L440.00 142.50L440.25 142.48L440.50 142.46L440.75 142.44L441.00 142.42L441.25 142.40L441.50 142.38L441.75 142.36L442.00 142.34L442.25 142.32L442.50 142.30L442.75 142.29L443.00 142.27L443.25 142.25L443.50 142.23L443.75 142.22L444.00 142.20L444.25 142.18L444.50 142.16L444.75 142.15L445.00 142.13L445.25 142.11L445.50 142.10L445.75 142.08L446.00 142.07L446.25 142.05L446.50 142.03L446.75 142.02L447.00 142.00L447.25 141.99L447.50 141.97L447.75 141.96L448.00 141.94L448.25 141.93L448.50 141.91L448.75 141.89L449.00 141.88L449.25 141.86L449.50 141.85L449.75 141.83L450.00 141.82L450.25 141.80L450.50 141.79L450.75 141.77L451.00 141.76L451.25 141.74L451.50 141.73L451.75 141.71L452.00 141.69L452.25 141.68L452.50 141.66L452.75 141.65L453.00 141.63L453.25 141.61L453.50 141.60L453.75 141.58L454.00 141.56L454.25 141.55L454.50 141.53L454.75 141.51L455.00 141.50L455.25 141.48L455.50 141.46L455.75 141.44L456.00 141.43L456.25 141.41L456.50 141.39L456.75 141.37L457.00 141.35L457.25 141.33L457.50 141.31L457.75 141.29L458.00 141.27L458.25 141.25L458.50 141.23L458.75 141.21L459.00 141.19L459.25 141.17L459.50 141.14L459.75 141.12L460.00 141.10L460.25 141.08L460.50 141.05L460.75 141.03L461.00 141.01L461.25 140.98L461.50 140.96L461.75 140.94L462.00 140.91L462.25 140.89L462.50 140.86L462.75 140.84L463.00 140.81L463.25 140.79L463.50 140.76L463.75 140.73L464.00 140.71L464.25 140.68L464.50 140.65L464.75 140.62L465.00 140.59L465.25 140.56L465.50 140.54L465.75 140.51L466.00 140.47L466.25 140.44L466.50 140.41L466.75 140.38L467.00 140.35L467.25 140.31L467.50 140.28L467.75 140.24L468.00 140.21L468.25 140.17L468.50 140.14L468.75 140.10L469.00 140.06L469.25 140.02L469.50 139.98L469.75 139.94L470.00 139.90L470.25 139.86L470.50 139.81L470.75 139.77L471.00 139.72L471.25 139.67L471.50 139.62L471.75 139.57L472.00 139.51L472.25 139.46L472.50 139.40L472.75 139.34L473.00 139.27L473.25 139.21L473.50 139.14L473.75 139.08L474.00 139.00L474.25 138.93L474.50 138.86L474.75 138.78L475.00 138.70L475.25 138.62L475.50 138.54L475.75 138.45L476.00 138.37L476.25 138.28L476.50 138.19L476.75 138.09L477.00 137.98L477.25 137.87L477.50 137.75L477.75 137.62L478.00 137.48L478.25 137.33L478.50 137.16L478.75 136.99L479.00 136.80L479.25 136.57L479.50 136.26L479.75 135.90L480.00 135.48L480.25 135.03L480.50 134.54L480.75 134.04L481.00 133.52L481.25 133.00L481.50 132.48L481.75 131.94L482.00 131.38L482.25 130.78L482.50 130.13L482.75 129.44L483.00 128.68L483.25 127.84L483.50 126.88L483.75 125.50L484.00 123.82L484.25 122.07L484.50 120.43L484.75 119.04L485.00 117.63L485.20 115.84L485.25 115.24L485.40 112.94L485.50 110.81L485.60 107.99L485.70 104.17L485.75 101.76L485.80 98.94L485.85 95.70L485.90 92.17L485.94 89.54L485.97 88.13L486.00 87.60L486.03 88.13L486.06 89.54L486.10 92.17L486.15 95.70L486.20 98.94L486.25 101.76L486.30 104.17L486.40 107.99L486.50 110.81L486.60 112.94L486.75 115.24L486.80 115.84L487.00 117.63L487.25 119.12L487.50 121.99L487.75 124.11L488.00 125.75L488.25 127.17L488.50 128.36L488.75 129.34L489.00 130.10L489.25 130.71L489.50 131.24L489.75 131.72L490.00 132.14L490.25 132.52L490.50 132.85L490.75 133.15L491.00 133.41L491.25 133.64L491.50 133.86L491.75 134.07L492.00 134.27L492.25 134.46L492.50 134.64L492.75 134.81L493.00 134.97L493.25 135.12L493.50 135.26L493.75 135.39L494.00 135.52L494.25 135.63L494.50 135.73L494.75 135.82L495.00 135.90L495.25 135.96L495.50 136.02L495.75 136.08L496.00 136.13L496.25 136.18L496.50 136.23L496.75 136.28L497.00 136.32L497.25 136.37L497.50 136.41L497.75 136.45L498.00 136.48L498.25 136.52L498.50 136.55L498.75 136.58L499.00 136.61L499.25 136.63L499.50 136.65L499.75 136.67L500.00 136.68L500.25 136.69L500.50 136.70L500.75 136.70L501.00 136.70L501.25 136.69L501.50 136.68L501.75 136.67L502.00 136.64L502.25 136.62L502.50 136.58L502.75 136.55L503.00 136.51L503.25 136.46L503.50 136.41L503.75 136.36L504.00 136.30L504.25 136.24L504.50 136.18L504.75 136.11L505.00 136.05L505.25 135.97L505.50 135.90L505.75 135.82L506.00 135.74L506.25 135.66L506.50 135.58L506.75 135.49L507.00 135.41L507.25 135.32L507.50 135.23L507.75 135.13L508.00 135.04L508.25 134.94L508.50 134.82L508.75 134.68L509.00 134.53L509.25 134.36L509.50 134.18L509.75 133.99L510.00 133.79L510.25 133.58L510.50 133.36L510.75 133.14L511.00 132.91L511.25 132.67L511.50 132.42L511.75 132.16L512.00 131.88L512.25 131.57L512.50 131.22L512.75 130.84L513.00 130.36L513.25 129.73L513.50 128.86L513.75 127.64L514.00 125.90L514.25 123.40L514.50 119.73L514.70 115.46L514.75 114.12L514.90 109.12L515.00 104.65L515.10 98.76L515.15 95.12L515.20 91.11L515.24 88.03L515.25 87.37L515.27 86.31L515.30 85.64L515.33 86.28L515.36 87.97L515.40 91.03L515.45 95.00L515.50 98.59L515.60 104.39L515.70 108.79L515.75 110.60L515.90 114.98L516.00 117.24L516.10 119.12L516.25 121.42L516.50 124.24L516.75 126.25L517.00 127.80L517.25 129.05L517.50 130.07L517.75 130.88L518.00 131.50L518.25 131.96L518.50 132.35L518.75 132.67L519.00 132.95L519.25 133.18L519.50 133.38L519.75 133.55L520.00 133.69L520.25 133.81L520.50 133.91L520.75 133.99L521.00 134.05L521.25 134.10L521.50 134.15L521.75 134.19L522.00 134.23L522.25 134.26L522.50 134.29L522.75 134.31L523.00 134.33L523.25 134.35L523.50 134.36L523.75 134.37L524.00 134.38L524.25 134.39L524.50 134.40L524.75 134.40L525.00 134.40L525.25 134.41L525.50 134.41L525.75 134.41L526.00 134.40L526.25 134.40L526.50 134.40L526.75 134.39L527.00 134.38L527.25 134.37L527.50 134.35L527.75 134.33L528.00 134.31L528.25 134.28L528.50 134.25L528.75 134.22L529.00 134.19L529.25 134.15L529.50 134.12L529.75 134.08L530.00 134.04L530.25 134.00L530.50 133.96L530.75 133.92L531.00 133.88L531.25 133.84L531.50 133.80L531.75 133.76L532.00 133.72L532.25 133.68L532.50 133.64L532.75 133.60L533.00 133.57L533.25 133.53L533.50 133.50L533.75 133.47L534.00 133.44L534.25 133.41L534.50 133.38L534.75 133.35L535.00 133.32L535.25 133.29L535.50 133.26L535.75 133.23L536.00 133.21L536.25 133.18L536.50 133.15L536.75 133.12L537.00 133.09L537.25 133.06L537.50 133.03L537.75 133.00L538.00 132.97L538.25 132.94L538.50 132.91L538.75 132.87L539.00 132.84L539.25 132.80L539.50 132.76L539.75 132.73L540.00 132.69L540.25 132.64L540.50 132.60L540.75 132.55L541.00 132.51L541.25 132.46L541.50 132.41L541.75 132.36L542.00 132.31L542.25 132.26L542.50 132.20L542.75 132.14L543.00 132.07L543.25 132.01L543.50 131.94L543.75 131.86L544.00 131.78L544.25 131.69L544.50 131.60L544.75 131.51L545.00 131.40L545.25 131.27L545.50 131.11L545.75 130.91L546.00 130.70L546.25 130.48L546.50 130.25L546.75 130.03L547.00 129.80L547.25 129.55L547.50 129.24L547.75 128.82L548.00 128.18L548.25 127.08L548.30 126.77L548.50 124.91L548.70 121.21L548.75 119.73L548.80 117.89L548.90 112.67L548.95 108.95L549.00 104.28L549.04 100.07L549.07 97.35L549.10 96.20L549.13 97.33L549.16 100.04L549.20 104.23L549.25 108.87L549.30 112.56L549.40 117.73L549.50 120.99L549.70 124.59L549.75 125.14L549.90 126.33L550.00 126.86L550.25 127.68L550.50 128.12L550.75 128.35L551.00 128.48L551.25 128.54L551.50 128.57L551.75 128.56L552.00 128.53L552.25 128.49L552.50 128.43L552.75 128.36L553.00 128.28L553.25 128.19L553.50 128.10L553.75 128.00L554.00 127.90L554.25 127.80L554.50 127.69L554.75 127.57L555.00 127.46L555.25 127.33L555.50 127.21L555.75 127.08L556.00 126.94L556.25 126.81L556.50 126.67L556.75 126.52L557.00 126.37L557.25 126.22L557.50 126.06L557.75 125.90L558.00 125.74L558.25 125.57L558.50 125.39L558.75 125.22L559.00 125.03L559.25 124.85L559.50 124.65L559.75 124.45L560.00 124.24L560.25 124.02L560.50 123.79L560.75 123.55L561.00 123.29L561.25 123.03L561.50 122.75L561.75 122.45L562.00 122.14L562.25 121.81L562.50 121.45L562.75 121.05L563.00 120.58L563.25 120.07L563.50 119.51L563.75 118.92L564.00 118.29L564.25 117.64L564.50 116.95L564.75 116.24L565.00 115.51L565.25 114.76L565.50 113.91L565.75 112.90L566.00 111.75L566.25 110.50L566.50 109.16L566.75 107.71L567.00 106.10L567.25 104.05L567.50 101.11L567.60 99.57L567.75 96.70L567.80 95.55L568.00 89.58L568.10 85.42L568.20 80.10L568.25 76.99L568.30 73.78L568.34 71.51L568.37 70.35L568.40 69.93L568.43 70.37L568.46 71.57L568.50 73.87L568.55 77.14L568.60 80.30L568.70 85.71L568.75 87.96L568.80 89.96L569.00 96.12L569.20 100.32L569.25 101.16L569.50 104.54L569.75 106.92L570.00 108.86L570.25 110.52L570.50 111.88L570.75 112.85L571.00 113.32L571.25 113.26L571.50 112.82L571.75 112.16L572.00 111.39L572.25 110.56L572.50 109.55L572.70 108.14L572.75 107.60L572.90 105.16L573.00 102.42L573.10 98.21L573.15 95.42L573.20 92.27L573.24 89.89L573.25 89.39L573.27 88.62L573.30 88.21L573.33 88.81L573.36 90.27L573.40 92.91L573.45 96.37L573.50 99.49L573.60 104.33L573.70 107.71L573.75 109.01L573.90 111.90L574.00 113.28L574.10 114.37L574.25 115.67L574.50 117.25L574.75 118.33L575.00 119.06L575.25 119.63L575.50 120.12L575.75 120.56L576.00 120.95L576.25 121.31L576.50 121.63L576.75 121.92L577.00 122.19L577.25 122.43L577.50 122.64L577.75 122.83L578.00 123.00L578.25 123.15L578.50 123.30L578.75 123.45L579.00 123.59L579.25 123.72L579.50 123.85L579.75 123.97L580.00 124.08L580.25 124.18L580.50 124.25L580.70 124.26L580.75 124.25L580.90 124.13L581.00 123.89L581.10 123.20L581.15 122.36L581.20 120.58L581.24 117.71L581.25 116.71L581.27 114.54L581.30 112.60L581.33 114.56L581.36 117.75L581.40 120.65L581.45 122.46L581.50 123.34L581.60 124.10L581.70 124.41L581.75 124.50L581.90 124.68L582.00 124.75L582.10 124.81L582.25 124.87L582.50 124.95L582.75 125.01L583.00 125.05L583.25 125.08L583.50 125.10L583.75 125.10L584.00 125.10L584.25 125.09L584.50 125.07L584.75 125.05L585.00 125.02L585.25 124.98L585.50 124.94L585.75 124.90L586.00 124.85L586.25 124.80L586.50 124.74L586.75 124.68L587.00 124.62L587.25 124.55L587.50 124.49L587.75 124.42L588.00 124.35L588.25 124.29L588.50 124.22L588.75 124.15L589.00 124.08L589.25 124.02L589.50 123.95L589.75 123.89L590.00 123.83L590.25 123.77L590.50 123.72L590.75 123.67L591.00 123.62L591.25 123.57L591.50 123.53L591.75 123.48L592.00 123.44L592.25 123.39L592.50 123.35L592.75 123.31L593.00 123.26L593.25 123.22L593.50 123.18L593.75 123.13L594.00 123.09L594.25 123.04L594.50 123.00L594.75 122.95L595.00 122.90L595.25 122.85L595.50 122.79L595.75 122.74L596.00 122.68L596.25 122.62L596.50 122.56L596.75 122.50L597.00 122.43L597.25 122.36L597.50 122.28L597.75 122.20L598.00 122.12L598.25 122.03L598.50 121.94L598.75 121.84L599.00 121.74L599.25 121.64L599.50 121.53L599.75 121.42L600.00 121.30L600.25 121.18L600.50 121.06L600.75 120.93L601.00 120.79L601.25 120.66L601.50 120.52L601.75 120.37L602.00 120.22L602.25 120.07L602.50 119.88L602.75 119.65L603.00 119.39L603.25 119.12L603.50 118.83L603.75 118.53L604.00 118.25L604.25 117.97L604.50 117.72L604.75 117.48L605.00 117.26L605.25 117.07L605.50 117.23L605.75 117.62L606.00 117.79L606.10 117.65L606.25 117.00L606.30 116.62L606.50 113.50L606.60 110.26L606.70 104.70L606.75 100.41L606.80 94.43L606.84 87.87L606.87 82.22L606.90 79.02L606.93 81.91L606.96 87.24L607.00 93.38L607.05 98.84L607.10 102.61L607.20 107.17L607.25 108.53L607.30 109.50L607.50 111.04L607.70 110.82L607.75 110.64L608.00 109.53L608.25 108.46L608.50 107.72L608.75 106.59L608.90 105.46L609.00 104.41L609.10 103.01L609.25 99.94L609.30 98.55L609.40 94.98L609.50 89.98L609.55 86.84L609.60 83.41L609.64 80.85L609.67 79.49L609.70 79.00L609.73 79.57L609.75 80.46L609.76 81.02L609.80 83.69L609.85 87.26L609.90 90.54L610.00 95.81L610.10 99.66L610.25 103.68L610.30 104.69L610.50 107.70L610.75 110.05L611.00 111.57L611.25 112.66L611.50 113.47L611.75 114.10L612.00 114.58L612.25 114.94L612.50 115.21L612.75 115.45L613.00 115.67L613.25 115.86L613.50 116.01L613.75 116.14L614.00 116.24L614.25 116.29L614.50 116.31L614.75 116.29L615.00 116.24L615.25 116.17L615.50 116.07L615.75 115.95L616.00 115.82L616.25 115.68L616.50 115.53L616.75 115.38L617.00 115.23L617.25 115.08L617.50 114.95L617.75 114.80L618.00 114.66L618.25 114.50L618.50 114.34L618.75 114.17L619.00 114.00L619.25 113.82L619.50 113.64L619.75 113.46L620.00 113.27L620.25 113.08L620.50 112.88L620.75 112.68L621.00 112.47L621.25 112.25L621.50 112.02L621.75 111.78L622.00 111.54L622.25 111.30L622.50 111.05L622.75 110.79L623.00 110.54L623.25 110.28L623.50 110.03L623.75 109.77L624.00 109.52L624.25 109.27L624.50 109.03L624.75 108.79L625.00 108.56L625.25 108.34L625.50 108.13L625.75 107.94L626.00 107.75L626.25 107.57L626.50 107.39L626.75 107.22L627.00 107.04L627.25 106.85L627.50 106.65L627.75 106.44L628.00 106.21L628.25 105.95L628.50 105.67L628.75 105.34L629.00 104.97L629.25 104.58L629.50 104.17L629.75 103.74L630.00 103.32L630.25 102.90L630.50 102.50L630.75 102.12L631.00 101.75L631.25 101.38L631.50 101.01L631.75 100.62L632.00 100.22L632.25 99.78L632.50 99.30L632.75 98.78L633.00 98.19L633.25 97.55L633.50 96.85L633.75 96.11L634.00 95.32L634.25 94.45L634.50 93.33L634.75 92.11L635.00 90.95L635.25 90.00L635.50 89.37L635.75 88.71L636.00 87.86L636.25 86.77L636.50 85.34L636.75 83.42L637.00 80.82L637.20 78.03L637.25 77.21L637.40 74.38L637.50 72.16L637.60 69.66L637.70 66.92L637.75 65.52L637.80 64.16L637.85 62.92L637.90 61.91L637.94 61.34L637.97 61.09L638.00 61.00L638.03 61.09L638.06 61.34L638.10 61.92L638.15 62.93L638.20 64.18L638.25 65.54L638.30 66.94L638.40 69.69L638.50 72.20L638.60 74.43L638.75 77.27L638.80 78.09L639.00 80.90L639.25 83.52L639.50 85.46L639.75 86.92L640.00 88.04L640.25 88.91L640.50 89.60L640.75 90.54L641.00 91.90L641.25 93.33L641.50 94.50L641.75 95.36L642.00 96.14L642.25 96.85L642.50 97.49L642.75 98.10L643.00 98.66L643.25 99.21L643.50 99.74L643.75 100.25L644.00 100.73L644.25 101.14L644.50 101.46L644.70 101.59L644.75 101.60L644.90 101.52L645.00 101.33L645.10 100.91L645.20 99.99L645.25 99.14L645.30 97.81L645.35 95.63L645.40 92.04L645.44 87.76L645.47 84.24L645.50 82.50L645.53 84.29L645.56 87.86L645.60 92.20L645.65 95.89L645.70 98.15L645.75 99.57L645.80 100.51L645.90 101.61L646.00 102.22L646.10 102.60L646.25 102.95L646.30 103.04L646.50 103.30L646.70 103.45L646.75 103.46L646.90 103.46L647.00 103.38L647.10 103.18L647.20 102.70L647.25 102.23L647.30 101.43L647.35 99.98L647.40 97.20L647.44 93.22L647.47 89.27L647.50 87.00L647.53 89.30L647.56 93.28L647.60 97.30L647.65 100.14L647.70 101.64L647.75 102.50L647.80 103.04L647.90 103.64L648.00 103.97L648.10 104.18L648.25 104.42L648.30 104.48L648.50 104.72L648.75 105.04L649.00 105.41L649.25 105.82L649.50 106.28L649.75 106.77L650.00 107.28L650.25 107.80L650.50 108.32L650.75 108.83L651.00 109.32L651.25 109.77L651.50 110.17L651.75 110.52L652.00 110.80L652.25 111.03L652.50 111.26L652.75 111.47L653.00 111.66L653.25 111.85L653.50 112.03L653.75 112.20L654.00 112.37L654.25 112.53L654.50 112.68L654.75 112.82L655.00 112.97L655.25 113.10L655.50 113.24L655.75 113.37L656.00 113.51L656.25 113.64L656.50 113.77L656.75 113.91L657.00 114.04L657.25 114.18L657.50 114.32L657.75 114.46L658.00 114.59L658.25 114.72L658.50 114.86L658.75 114.99L659.00 115.11L659.25 115.24L659.50 115.37L659.75 115.49L660.00 115.61L660.25 115.73L660.50 115.85L660.75 115.96L661.00 116.08L661.25 116.19L661.50 116.30L661.75 116.41L662.00 116.52L662.25 116.62L662.50 116.72L662.75 116.83L663.00 116.93L663.25 117.03L663.50 117.12L663.75 117.22L664.00 117.32L664.25 117.41L664.50 117.51L664.75 117.60L665.00 117.69L665.25 117.77L665.50 117.86L665.75 117.95L666.00 118.03L666.25 118.11L666.50 118.19L666.75 118.27L667.00 118.34L667.25 118.41L667.50 118.49L667.75 118.57L668.00 118.65L668.25 118.73L668.50 118.81L668.75 118.89L669.00 118.97L669.25 119.05L669.50 119.12L669.75 119.18L670.00 119.24L670.25 119.29L670.50 119.34L670.75 119.37L671.00 119.39L671.25 119.40L671.50 119.40L671.75 119.40L672.00 119.40L672.25 119.40L672.50 119.40L672.75 119.40L673.00 119.40L673.25 119.40L673.50 119.40L673.75 119.40L674.00 119.40L674.25 119.40L674.50 119.40L674.75 119.40L675.00 119.40L675.25 119.39L675.50 119.37L675.75 119.35L676.00 119.33L676.25 119.30L676.50 119.26L676.75 119.22L677.00 119.18L677.25 119.13L677.50 119.09L677.75 119.04L678.00 118.98L678.25 118.93L678.50 118.88L678.75 118.81L679.00 118.74L679.25 118.65L679.50 118.56L679.75 118.46L680.00 118.35L680.25 118.23L680.50 118.11L680.75 117.98L681.00 117.84L681.25 117.68L681.50 117.50" fill="none" stroke="#ffa500" stroke-width="1.05" stroke-dasharray="4.4 1.25 0.8 1.2" stroke-linejoin="round"/>
<line x1="152" y1="68.55" x2="192.4" y2="68.55" stroke="#3434ff" stroke-width="1.2" stroke-dasharray="1.5 1.98"/>
<line x1="152.2" y1="83.95" x2="193.4" y2="83.95" stroke="#ff1414" stroke-width="1.0"/>
<line x1="152.2" y1="99.2" x2="193.4" y2="99.2" stroke="#ffa500" stroke-width="1.05" stroke-dasharray="4.4 1.25 0.8 1.2"/>
<path d="M78 60.9H73.5V225.35H681.6V60.9H677.3" fill="none" stroke="#111" stroke-width="1.1"/>
<path d="M73.5 102.1H78M681.6 102.1H677.3" stroke="#111" stroke-width="1.0"/>
<path d="M73.5 143.2H78M681.6 143.2H677.3" stroke="#111" stroke-width="1.0"/>
<path d="M73.5 184.3H78M681.6 184.3H677.3" stroke="#111" stroke-width="1.0"/>
<path d="M149.5 225.3V220.8" stroke="#111" stroke-width="1.0"/>
<path d="M225.5 225.3V220.8" stroke="#111" stroke-width="1.0"/>
<path d="M301.5 225.3V220.8" stroke="#111" stroke-width="1.0"/>
<path d="M377.5 225.3V220.8" stroke="#111" stroke-width="1.0"/>
<path d="M453.5 225.3V220.8" stroke="#111" stroke-width="1.0"/>
<path d="M529.5 225.3V220.8" stroke="#111" stroke-width="1.0"/>
<path d="M605.5 225.3V220.8" stroke="#111" stroke-width="1.0"/>
<line x1="111.1" y1="19.75" x2="681.6" y2="19.75" stroke="#1a1a1a" stroke-width="1.0"/>
<line x1="111.1" y1="33.55" x2="681.6" y2="33.55" stroke="#1a1a1a" stroke-width="1.0"/>
<line x1="111.1" y1="47.35" x2="681.6" y2="47.35" stroke="#1a1a1a" stroke-width="1.0"/>
<rect x="137.35" y="17.90" width="3.3" height="3.7" fill="none" stroke="#222" stroke-width="0.9"/>
<rect x="144.85" y="17.90" width="3.3" height="3.7" fill="none" stroke="#222" stroke-width="0.9"/>
<rect x="161.35" y="17.90" width="3.3" height="3.7" fill="none" stroke="#222" stroke-width="0.9"/>
<rect x="195.65" y="17.90" width="3.3" height="3.7" fill="none" stroke="#222" stroke-width="0.9"/>
<rect x="203.35" y="17.90" width="3.3" height="3.7" fill="none" stroke="#222" stroke-width="0.9"/>
<rect x="218.05" y="17.90" width="3.3" height="3.7" fill="none" stroke="#222" stroke-width="0.9"/>
<rect x="249.75" y="17.90" width="3.3" height="3.7" fill="none" stroke="#222" stroke-width="0.9"/>
<rect x="292.55" y="17.90" width="3.3" height="3.7" fill="none" stroke="#222" stroke-width="0.9"/>
<rect x="296.15" y="17.90" width="3.3" height="3.7" fill="none" stroke="#222" stroke-width="0.9"/>
<rect x="314.65" y="17.90" width="3.3" height="3.7" fill="none" stroke="#222" stroke-width="0.9"/>
<rect x="487.75" y="17.90" width="3.3" height="3.7" fill="none" stroke="#222" stroke-width="0.9"/>
<rect x="513.20" y="17.55" width="4.2" height="4.4" fill="#000"/>
<rect x="547.10" y="17.55" width="4.2" height="4.4" fill="#000"/>
<rect x="571.20" y="17.55" width="4.2" height="4.4" fill="#000"/>
<rect x="579.20" y="17.55" width="4.2" height="4.4" fill="#000"/>
<rect x="609.00" y="17.55" width="4.2" height="4.4" fill="#000"/>
<rect x="636.15" y="17.55" width="4.2" height="4.4" fill="#000"/>
<rect x="637.70" y="17.55" width="4.2" height="4.4" fill="#000"/>
<rect x="643.30" y="17.55" width="4.2" height="4.4" fill="#000"/>
<rect x="133.05" y="31.70" width="3.3" height="3.7" fill="none" stroke="#222" stroke-width="0.9"/>
<rect x="141.15" y="31.70" width="3.3" height="3.7" fill="none" stroke="#222" stroke-width="0.9"/>
<rect x="162.85" y="31.70" width="3.3" height="3.7" fill="none" stroke="#222" stroke-width="0.9"/>
<rect x="228.85" y="31.70" width="3.3" height="3.7" fill="none" stroke="#222" stroke-width="0.9"/>
<rect x="257.75" y="31.70" width="3.3" height="3.7" fill="none" stroke="#222" stroke-width="0.9"/>
<rect x="279.85" y="31.70" width="3.3" height="3.7" fill="none" stroke="#222" stroke-width="0.9"/>
<rect x="336.65" y="31.70" width="3.3" height="3.7" fill="none" stroke="#222" stroke-width="0.9"/>
<rect x="484.35" y="31.70" width="3.3" height="3.7" fill="none" stroke="#222" stroke-width="0.9"/>
<rect x="566.50" y="31.35" width="4.2" height="4.4" fill="#000"/>
<rect x="608.00" y="31.35" width="4.2" height="4.4" fill="#000"/>
<rect x="645.50" y="31.35" width="4.2" height="4.4" fill="#000"/>
<rect x="635.90" y="45.15" width="4.2" height="4.4" fill="#000"/>
</svg>
</body></html>
